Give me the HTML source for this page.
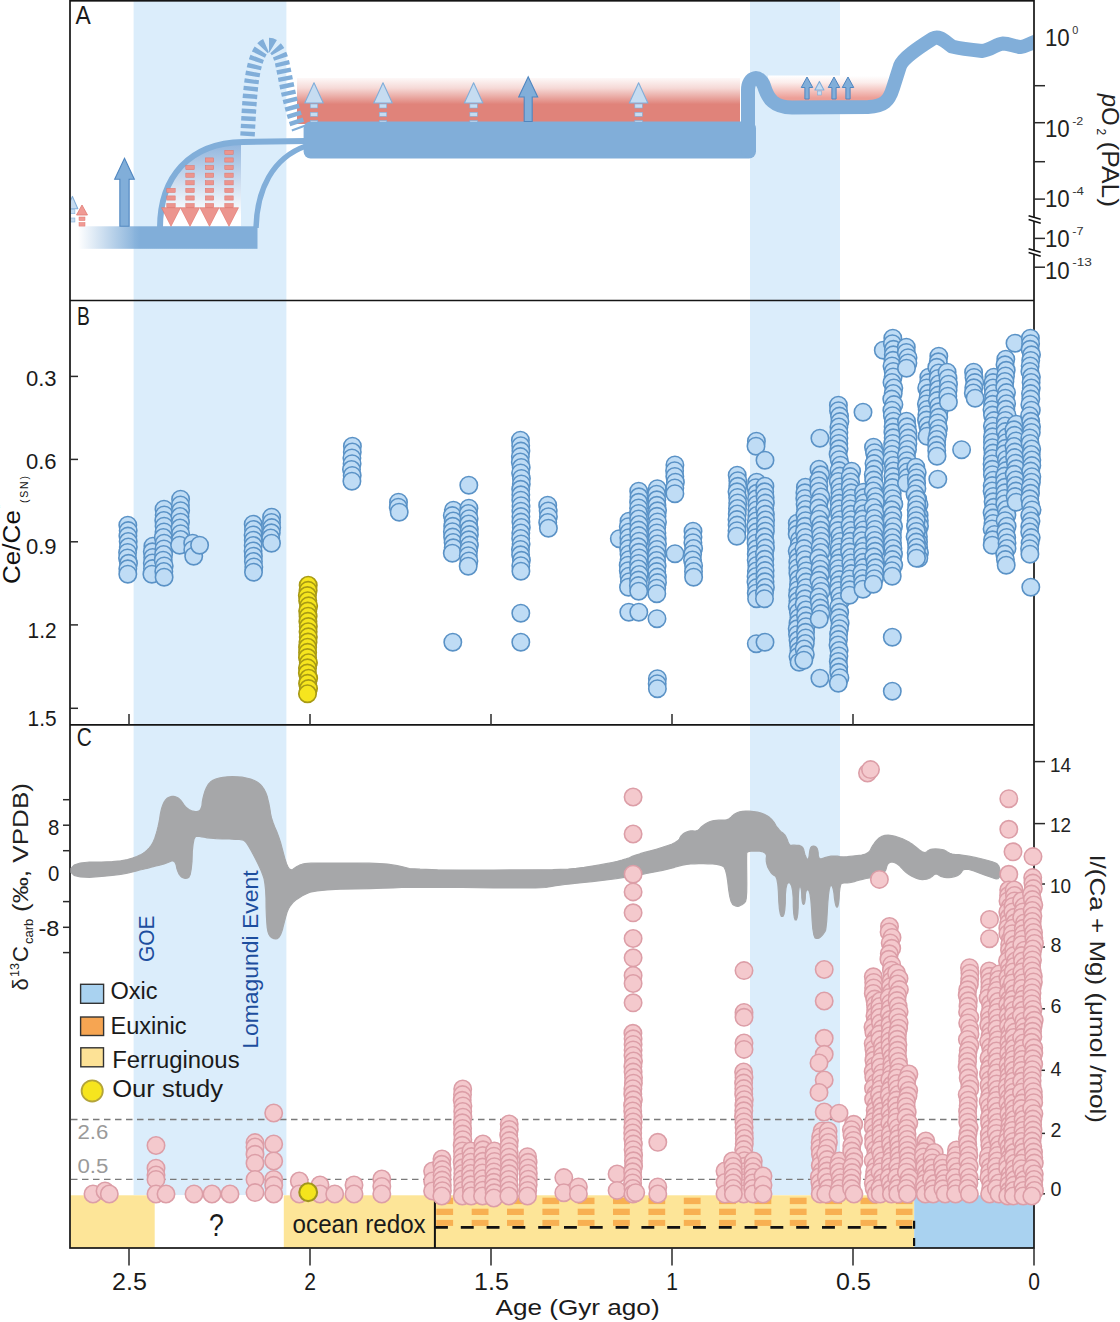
<!DOCTYPE html><html><head><meta charset="utf-8"><style>html,body{margin:0;padding:0;background:#fff;width:1120px;height:1322px;overflow:hidden}</style></head><body><svg width="1120" height="1322" viewBox="0 0 1120 1322" font-family='"Liberation Sans", sans-serif' style="display:block">
<defs>
<linearGradient id="gRed" x1="0" y1="77" x2="0" y2="121" gradientUnits="userSpaceOnUse"><stop offset="0" stop-color="#e0837a" stop-opacity="0.03"/><stop offset="0.25" stop-color="#e0837a" stop-opacity="0.3"/><stop offset="0.62" stop-color="#e0837a" stop-opacity="1"/><stop offset="1" stop-color="#e0837a" stop-opacity="1"/></linearGradient>
<linearGradient id="gRed2" x1="0" y1="76" x2="0" y2="98" gradientUnits="userSpaceOnUse"><stop offset="0" stop-color="#e8877d" stop-opacity="0"/><stop offset="0.3" stop-color="#e8877d" stop-opacity="0.15"/><stop offset="1" stop-color="#e8877d" stop-opacity="0.8"/></linearGradient>
<linearGradient id="gBar" x1="78" y1="0" x2="140" y2="0" gradientUnits="userSpaceOnUse"><stop offset="0" stop-color="#81aed9" stop-opacity="0"/><stop offset="1" stop-color="#81aed9" stop-opacity="1"/></linearGradient>
<linearGradient id="gDome" x1="0" y1="142" x2="0" y2="215" gradientUnits="userSpaceOnUse"><stop offset="0" stop-color="#8fb4dd"/><stop offset="1" stop-color="#ffffff"/></linearGradient>
<clipPath id="clipA"><rect x="70.7" y="1.5" width="963" height="298"/></clipPath>
</defs>
<rect width="1120" height="1322" fill="#ffffff"/>
<rect x="133.6" y="1" width="152.8" height="1194" fill="#dbedfb"/>
<rect x="750" y="1" width="90" height="1194" fill="#dbedfb"/>
<g clip-path="url(#clipA)">
<rect x="297" y="78" width="443" height="46" fill="url(#gRed)"/>
<rect x="768" y="75.5" width="120" height="30.5" fill="#ffffff"/>
<rect x="768" y="75.5" width="120" height="30.5" fill="url(#gRed2)"/>
<rect x="78" y="226.3" width="179.5" height="22.5" fill="url(#gBar)"/>
<path d="M162,226 C162,178 190,145 241,143.5 L241,226 Z" fill="url(#gDome)"/>
<path d="M160,228 C160,177 189,143 243,142 L306,141" fill="none" stroke="#81aed9" stroke-width="6"/>
<path d="M256,228 C257,190 272,158 306,146" fill="none" stroke="#81aed9" stroke-width="5.5"/>
<path d="M247.5,136 C249,110 250,82 255,64 C259,50 264,45 269,45 C274,45 279,50 282,62 C286,80 289,102 299,129" fill="none" stroke="#81aed9" stroke-width="14.5" stroke-dasharray="4.4 3.1"/>
<rect x="303.6" y="121.5" width="452.4" height="37.1" rx="7" fill="#81aed9"/>
<path d="M748,150 L748,90 C748,76 760,74 764,86 C768,99 774,107.5 792,107.5 L868,107 C884,106.5 889,101 893,88 L900,66 C903,58 918,48 933,38.5 C940,35 945,42 952,46.5 C962,49 972,50 982,51 C991,50 996,44 1003,43.5 C1010,43.5 1015,47 1021,47 C1026,46 1030,43.5 1036,41.5" fill="none" stroke="#81aed9" stroke-width="14" stroke-linejoin="round" stroke-linecap="round"/>
<path d="M314,82.7 L323.25,103 L304.75,103 Z" fill="#c6dcf1" stroke="#81aed9" stroke-width="1.1" stroke-linejoin="round"/>
<rect x="310.25" y="104.0" width="7.5" height="4.0" fill="#c6dcf1" stroke="#81aed9" stroke-width="0.6"/>
<rect x="310.25" y="112.3" width="7.5" height="4.0" fill="#c6dcf1" stroke="#81aed9" stroke-width="0.6"/>
<rect x="310.25" y="120.6" width="7.5" height="1.4" fill="#c6dcf1" stroke="#81aed9" stroke-width="0.6"/>
<path d="M383,82.7 L392.25,103 L373.75,103 Z" fill="#c6dcf1" stroke="#81aed9" stroke-width="1.1" stroke-linejoin="round"/>
<rect x="379.25" y="104.0" width="7.5" height="4.0" fill="#c6dcf1" stroke="#81aed9" stroke-width="0.6"/>
<rect x="379.25" y="112.3" width="7.5" height="4.0" fill="#c6dcf1" stroke="#81aed9" stroke-width="0.6"/>
<rect x="379.25" y="120.6" width="7.5" height="1.4" fill="#c6dcf1" stroke="#81aed9" stroke-width="0.6"/>
<path d="M473.6,82.7 L482.85,103 L464.35,103 Z" fill="#c6dcf1" stroke="#81aed9" stroke-width="1.1" stroke-linejoin="round"/>
<rect x="469.85" y="104.0" width="7.5" height="4.0" fill="#c6dcf1" stroke="#81aed9" stroke-width="0.6"/>
<rect x="469.85" y="112.3" width="7.5" height="4.0" fill="#c6dcf1" stroke="#81aed9" stroke-width="0.6"/>
<rect x="469.85" y="120.6" width="7.5" height="1.4" fill="#c6dcf1" stroke="#81aed9" stroke-width="0.6"/>
<path d="M638.6,82.7 L647.85,103 L629.35,103 Z" fill="#c6dcf1" stroke="#81aed9" stroke-width="1.1" stroke-linejoin="round"/>
<rect x="634.85" y="104.0" width="7.5" height="4.0" fill="#c6dcf1" stroke="#81aed9" stroke-width="0.6"/>
<rect x="634.85" y="112.3" width="7.5" height="4.0" fill="#c6dcf1" stroke="#81aed9" stroke-width="0.6"/>
<rect x="634.85" y="120.6" width="7.5" height="1.4" fill="#c6dcf1" stroke="#81aed9" stroke-width="0.6"/>
<path d="M528.2,76.7 L537.7,97 L532.2,97 L532.2,121.5 L524.2,121.5 L524.2,97 L518.7,97 Z" fill="#81aed9" stroke="#4f86c0" stroke-width="1.1" stroke-linejoin="miter"/>
<path d="M807,77 L812.75,87.5 L809.1,87.5 L809.1,99 L804.9,99 L804.9,87.5 L801.25,87.5 Z" fill="#81aed9" stroke="#4f86c0" stroke-width="1.0" stroke-linejoin="miter"/>
<path d="M834,77 L839.75,87.5 L836.1,87.5 L836.1,99 L831.9,99 L831.9,87.5 L828.25,87.5 Z" fill="#81aed9" stroke="#4f86c0" stroke-width="1.0" stroke-linejoin="miter"/>
<path d="M848,77 L853.75,87.5 L850.1,87.5 L850.1,99 L845.9,99 L845.9,87.5 L842.25,87.5 Z" fill="#81aed9" stroke="#4f86c0" stroke-width="1.0" stroke-linejoin="miter"/>
<path d="M819.4,81.4 L823.9,90 L814.9,90 Z" fill="#c6dcf1" stroke="#81aed9" stroke-width="1.1" stroke-linejoin="round"/>
<rect x="817.4" y="91.0" width="4" height="4.0" fill="#c6dcf1" stroke="#81aed9" stroke-width="0.6"/>
<path d="M124.5,158.3 L134.35,179.2 L129.15,179.2 L129.15,226.3 L119.85,226.3 L119.85,179.2 L114.65,179.2 Z" fill="#81aed9" stroke="#4f86c0" stroke-width="1.1" stroke-linejoin="miter"/>
<path d="M72.4,196.4 L77.80000000000001,208.7 L67.0,208.7 Z" fill="#c6dcf1" stroke="#81aed9" stroke-width="1.1" stroke-linejoin="round"/>
<rect x="69.9" y="209.7" width="5" height="4.0" fill="#c6dcf1" stroke="#81aed9" stroke-width="0.6"/>
<rect x="69.9" y="218.0" width="5" height="4.0" fill="#c6dcf1" stroke="#81aed9" stroke-width="0.6"/>
<path d="M82,205 L87.5,215 L76.5,215 Z" fill="#f09a94" stroke="#e07a72" stroke-width="0.8"/>
<rect x="79" y="217" width="6" height="3.6" fill="#f09a94" stroke="#e07a72" stroke-width="0.5"/>
<rect x="79" y="222.5" width="6" height="3.6" fill="#f09a94" stroke="#e07a72" stroke-width="0.5"/>
<rect x="166.8" y="203.5" width="8.4" height="4.2" fill="#ec958e" stroke="#e0726a" stroke-width="0.5"/>
<rect x="166.8" y="195.9" width="8.4" height="4.2" fill="#ec958e" stroke="#e0726a" stroke-width="0.5"/>
<rect x="166.8" y="188.3" width="8.4" height="4.2" fill="#ec958e" stroke="#e0726a" stroke-width="0.5"/>
<path d="M161.5,207.7 L180.5,207.7 L171,226.3 Z" fill="#ec958e" stroke="#e0726a" stroke-width="0.6"/>
<rect x="185.8" y="203.5" width="8.4" height="4.2" fill="#ec958e" stroke="#e0726a" stroke-width="0.5"/>
<rect x="185.8" y="195.9" width="8.4" height="4.2" fill="#ec958e" stroke="#e0726a" stroke-width="0.5"/>
<rect x="185.8" y="188.3" width="8.4" height="4.2" fill="#ec958e" stroke="#e0726a" stroke-width="0.5"/>
<rect x="185.8" y="180.7" width="8.4" height="4.2" fill="#ec958e" stroke="#e0726a" stroke-width="0.5"/>
<rect x="185.8" y="173.1" width="8.4" height="4.2" fill="#ec958e" stroke="#e0726a" stroke-width="0.5"/>
<rect x="185.8" y="165.5" width="8.4" height="4.2" fill="#ec958e" stroke="#e0726a" stroke-width="0.5"/>
<path d="M180.5,207.7 L199.5,207.7 L190,226.3 Z" fill="#ec958e" stroke="#e0726a" stroke-width="0.6"/>
<rect x="205.3" y="203.5" width="8.4" height="4.2" fill="#ec958e" stroke="#e0726a" stroke-width="0.5"/>
<rect x="205.3" y="195.9" width="8.4" height="4.2" fill="#ec958e" stroke="#e0726a" stroke-width="0.5"/>
<rect x="205.3" y="188.3" width="8.4" height="4.2" fill="#ec958e" stroke="#e0726a" stroke-width="0.5"/>
<rect x="205.3" y="180.7" width="8.4" height="4.2" fill="#ec958e" stroke="#e0726a" stroke-width="0.5"/>
<rect x="205.3" y="173.1" width="8.4" height="4.2" fill="#ec958e" stroke="#e0726a" stroke-width="0.5"/>
<rect x="205.3" y="165.5" width="8.4" height="4.2" fill="#ec958e" stroke="#e0726a" stroke-width="0.5"/>
<rect x="205.3" y="157.9" width="8.4" height="4.2" fill="#ec958e" stroke="#e0726a" stroke-width="0.5"/>
<path d="M200.0,207.7 L219.0,207.7 L209.5,226.3 Z" fill="#ec958e" stroke="#e0726a" stroke-width="0.6"/>
<rect x="224.8" y="203.5" width="8.4" height="4.2" fill="#ec958e" stroke="#e0726a" stroke-width="0.5"/>
<rect x="224.8" y="195.9" width="8.4" height="4.2" fill="#ec958e" stroke="#e0726a" stroke-width="0.5"/>
<rect x="224.8" y="188.3" width="8.4" height="4.2" fill="#ec958e" stroke="#e0726a" stroke-width="0.5"/>
<rect x="224.8" y="180.7" width="8.4" height="4.2" fill="#ec958e" stroke="#e0726a" stroke-width="0.5"/>
<rect x="224.8" y="173.1" width="8.4" height="4.2" fill="#ec958e" stroke="#e0726a" stroke-width="0.5"/>
<rect x="224.8" y="165.5" width="8.4" height="4.2" fill="#ec958e" stroke="#e0726a" stroke-width="0.5"/>
<rect x="224.8" y="157.9" width="8.4" height="4.2" fill="#ec958e" stroke="#e0726a" stroke-width="0.5"/>
<rect x="224.8" y="150.3" width="8.4" height="4.2" fill="#ec958e" stroke="#e0726a" stroke-width="0.5"/>
<path d="M219.5,207.7 L238.5,207.7 L229,226.3 Z" fill="#ec958e" stroke="#e0726a" stroke-width="0.6"/>
</g>
<rect x="70" y="1195.3" width="84.69999999999999" height="52.700000000000045" fill="#fde598"/>
<rect x="283.8" y="1195.3" width="630.4000000000001" height="52.700000000000045" fill="#fde598"/>
<rect x="914.2" y="1195.3" width="119.79999999999995" height="52.700000000000045" fill="#a9d2f0"/>
<g fill="#f8b052">
<rect x="436.3" y="1197.7" width="16.8" height="6.4"/>
<rect x="436.3" y="1208.7" width="16.8" height="6.3"/>
<rect x="436.3" y="1219.9" width="16.8" height="6.0"/>
<rect x="471.7" y="1197.7" width="16.8" height="6.4"/>
<rect x="471.7" y="1208.7" width="16.8" height="6.3"/>
<rect x="471.7" y="1219.9" width="16.8" height="6.0"/>
<rect x="507.0" y="1197.7" width="16.8" height="6.4"/>
<rect x="507.0" y="1208.7" width="16.8" height="6.3"/>
<rect x="507.0" y="1219.9" width="16.8" height="6.0"/>
<rect x="542.4" y="1197.7" width="16.8" height="6.4"/>
<rect x="542.4" y="1208.7" width="16.8" height="6.3"/>
<rect x="542.4" y="1219.9" width="16.8" height="6.0"/>
<rect x="577.7" y="1197.7" width="16.8" height="6.4"/>
<rect x="577.7" y="1208.7" width="16.8" height="6.3"/>
<rect x="577.7" y="1219.9" width="16.8" height="6.0"/>
<rect x="613.0" y="1197.7" width="16.8" height="6.4"/>
<rect x="613.0" y="1208.7" width="16.8" height="6.3"/>
<rect x="613.0" y="1219.9" width="16.8" height="6.0"/>
<rect x="648.4" y="1197.7" width="16.8" height="6.4"/>
<rect x="648.4" y="1208.7" width="16.8" height="6.3"/>
<rect x="648.4" y="1219.9" width="16.8" height="6.0"/>
<rect x="683.8" y="1197.7" width="16.8" height="6.4"/>
<rect x="683.8" y="1208.7" width="16.8" height="6.3"/>
<rect x="683.8" y="1219.9" width="16.8" height="6.0"/>
<rect x="719.1" y="1197.7" width="16.8" height="6.4"/>
<rect x="719.1" y="1208.7" width="16.8" height="6.3"/>
<rect x="719.1" y="1219.9" width="16.8" height="6.0"/>
<rect x="754.5" y="1197.7" width="16.8" height="6.4"/>
<rect x="754.5" y="1208.7" width="16.8" height="6.3"/>
<rect x="754.5" y="1219.9" width="16.8" height="6.0"/>
<rect x="789.8" y="1197.7" width="16.8" height="6.4"/>
<rect x="789.8" y="1208.7" width="16.8" height="6.3"/>
<rect x="789.8" y="1219.9" width="16.8" height="6.0"/>
<rect x="825.2" y="1197.7" width="16.8" height="6.4"/>
<rect x="825.2" y="1208.7" width="16.8" height="6.3"/>
<rect x="825.2" y="1219.9" width="16.8" height="6.0"/>
<rect x="860.5" y="1197.7" width="16.8" height="6.4"/>
<rect x="860.5" y="1208.7" width="16.8" height="6.3"/>
<rect x="860.5" y="1219.9" width="16.8" height="6.0"/>
<rect x="895.9" y="1197.7" width="16.6" height="6.4"/>
<rect x="895.9" y="1208.7" width="16.6" height="6.3"/>
<rect x="895.9" y="1219.9" width="16.6" height="6.0"/>
</g>
<line x1="434.9" y1="1194" x2="434.9" y2="1248" stroke="#111" stroke-width="2"/>
<line x1="435" y1="1227.4" x2="914.2" y2="1227.4" stroke="#111" stroke-width="2.6" stroke-dasharray="12.9 12.9"/>
<line x1="914.1" y1="1220.7" x2="914.1" y2="1248" stroke="#111" stroke-width="2.2" stroke-dasharray="8 9.3"/>
<text x="209.00" y="1236.3" font-size="31" fill="#1a1a1a" textLength="14.90" lengthAdjust="spacingAndGlyphs" >?</text>
<text x="292.60" y="1233.3" font-size="25" fill="#1a1a1a" textLength="133.08" lengthAdjust="spacingAndGlyphs" >ocean redox</text>
<g stroke="#151515" stroke-width="1.7" fill="none">
<rect x="70" y="0.8" width="964" height="1247.2"/>
<line x1="70" y1="300.5" x2="1034" y2="300.5"/>
<line x1="70" y1="724.9" x2="1034" y2="724.9"/>
</g>
<g stroke="#2a2a2a" stroke-width="1.5">
<line x1="1034" y1="85.7" x2="1045" y2="85.7"/>
<line x1="1034" y1="122.7" x2="1045" y2="122.7"/>
<line x1="1034" y1="161.7" x2="1045" y2="161.7"/>
<line x1="1034" y1="199.1" x2="1045" y2="199.1"/>
<line x1="1034" y1="238.4" x2="1045" y2="238.4"/>
<line x1="1034" y1="267.2" x2="1045" y2="267.2"/>
<line x1="70" y1="376.4" x2="78" y2="376.4"/>
<line x1="70" y1="459.4" x2="78" y2="459.4"/>
<line x1="70" y1="541.8" x2="78" y2="541.8"/>
<line x1="70" y1="624.9" x2="78" y2="624.9"/>
<line x1="70" y1="708.3" x2="78" y2="708.3"/>
<line x1="129.0" y1="724.9" x2="129.0" y2="713.9"/>
<line x1="310" y1="724.9" x2="310" y2="713.9"/>
<line x1="491.0" y1="724.9" x2="491.0" y2="713.9"/>
<line x1="672" y1="724.9" x2="672" y2="713.9"/>
<line x1="853.0" y1="724.9" x2="853.0" y2="713.9"/>
<line x1="63" y1="799.7" x2="70" y2="799.7"/>
<line x1="63" y1="825.2" x2="70" y2="825.2"/>
<line x1="63" y1="850.7" x2="70" y2="850.7"/>
<line x1="63" y1="901.6" x2="70" y2="901.6"/>
<line x1="63" y1="927.3" x2="70" y2="927.3"/>
<line x1="63" y1="952.6" x2="70" y2="952.6"/>
<line x1="1034" y1="1193.8" x2="1045" y2="1193.8"/>
<line x1="1034" y1="1133.4" x2="1045" y2="1133.4"/>
<line x1="1034" y1="1070.3" x2="1045" y2="1070.3"/>
<line x1="1034" y1="1008.8" x2="1045" y2="1008.8"/>
<line x1="1034" y1="947.0" x2="1045" y2="947.0"/>
<line x1="1034" y1="884.0" x2="1045" y2="884.0"/>
<line x1="1034" y1="823.6" x2="1045" y2="823.6"/>
<line x1="1034" y1="761.6" x2="1045" y2="761.6"/>
<line x1="129.0" y1="1248" x2="129.0" y2="1265.4"/>
<line x1="310" y1="1248" x2="310" y2="1265.4"/>
<line x1="491.0" y1="1248" x2="491.0" y2="1265.4"/>
<line x1="672" y1="1248" x2="672" y2="1265.4"/>
<line x1="853.0" y1="1248" x2="853.0" y2="1265.4"/>
<line x1="1034" y1="1248" x2="1034" y2="1265.4"/>
</g>
<path d="M1031,216.4 L1038,218.5 L1038,222.3 L1031,220.2 Z" fill="#ffffff"/>
<line x1="1028.6" y1="215.7" x2="1040.7" y2="219.3" stroke="#111" stroke-width="1.5"/>
<line x1="1028.6" y1="219.5" x2="1040.7" y2="223.2" stroke="#111" stroke-width="1.5"/>
<path d="M1031,249.4 L1038,251.5 L1038,255.3 L1031,253.2 Z" fill="#ffffff"/>
<line x1="1028.6" y1="248.7" x2="1040.7" y2="252.3" stroke="#111" stroke-width="1.5"/>
<line x1="1028.6" y1="252.5" x2="1040.7" y2="256.2" stroke="#111" stroke-width="1.5"/>
<text x="75.40" y="24.3" font-size="25" fill="#1a1a1a" textLength="15.23" lengthAdjust="spacingAndGlyphs" >A</text>
<text x="77.10" y="324.9" font-size="25" fill="#1a1a1a" textLength="12.84" lengthAdjust="spacingAndGlyphs" >B</text>
<text x="76.70" y="746.3" font-size="25" fill="#1a1a1a" textLength="15.05" lengthAdjust="spacingAndGlyphs" >C</text>
<text x="1045.00" y="45.7" font-size="24.5" fill="#222" textLength="24.75" lengthAdjust="spacingAndGlyphs" >10</text>
<text x="1072.20" y="33.9" font-size="11.5" fill="#333" textLength="6.06" lengthAdjust="spacingAndGlyphs" >0</text>
<text x="1045.00" y="136.5" font-size="24.5" fill="#222" textLength="24.75" lengthAdjust="spacingAndGlyphs" >10</text>
<text x="1072.20" y="124.7" font-size="11.5" fill="#333" textLength="11.19" lengthAdjust="spacingAndGlyphs" >-2</text>
<text x="1045.00" y="207.0" font-size="24.5" fill="#222" textLength="24.75" lengthAdjust="spacingAndGlyphs" >10</text>
<text x="1072.20" y="194.7" font-size="11.5" fill="#333" textLength="11.79" lengthAdjust="spacingAndGlyphs" >-4</text>
<text x="1045.00" y="246.7" font-size="24.5" fill="#222" textLength="24.75" lengthAdjust="spacingAndGlyphs" >10</text>
<text x="1072.20" y="234.5" font-size="11.5" fill="#333" textLength="11.29" lengthAdjust="spacingAndGlyphs" >-7</text>
<text x="1045.00" y="278.5" font-size="24.5" fill="#222" textLength="24.75" lengthAdjust="spacingAndGlyphs" >10</text>
<text x="1072.20" y="265.8" font-size="11.5" fill="#333" textLength="19.73" lengthAdjust="spacingAndGlyphs" >-13</text>
<g transform="translate(1102,0) rotate(90)">
<text y="0" font-size="24" fill="#222"><tspan x="93.8" font-style="italic">p</tspan><tspan x="107">O</tspan><tspan x="128.5" y="5.5" font-size="12">2</tspan><tspan x="141.5" y="0" textLength="65.5" lengthAdjust="spacingAndGlyphs">(PAL)</tspan></text>
</g>
<text x="26.00" y="386.3" font-size="21.5" fill="#1a1a1a" textLength="30.60" lengthAdjust="spacingAndGlyphs" >0.3</text>
<text x="26.00" y="468.5" font-size="21.5" fill="#1a1a1a" textLength="30.60" lengthAdjust="spacingAndGlyphs" >0.6</text>
<text x="26.00" y="554.2" font-size="21.5" fill="#1a1a1a" textLength="30.60" lengthAdjust="spacingAndGlyphs" >0.9</text>
<text x="27.60" y="638.0" font-size="21.5" fill="#1a1a1a" textLength="29.00" lengthAdjust="spacingAndGlyphs" >1.2</text>
<text x="27.60" y="725.7" font-size="21.5" fill="#1a1a1a" textLength="29.00" lengthAdjust="spacingAndGlyphs" >1.5</text>
<g transform="translate(19.7,0) rotate(-90)">
<text y="0" font-size="23.5" fill="#111"><tspan x="-584" textLength="74" lengthAdjust="spacingAndGlyphs">Ce/Ce</tspan><tspan x="-509" y="-15.5" font-size="11">*</tspan><tspan x="-503" y="8" font-size="10.5" letter-spacing="1.8">(SN)</tspan></text>
</g>
<text x="48.00" y="834.5" font-size="21.5" fill="#1a1a1a" textLength="11.32" lengthAdjust="spacingAndGlyphs" >8</text>
<text x="48.00" y="881.0" font-size="21.5" fill="#1a1a1a" textLength="11.32" lengthAdjust="spacingAndGlyphs" >0</text>
<text x="38.50" y="935.5" font-size="21.5" fill="#1a1a1a" textLength="20.88" lengthAdjust="spacingAndGlyphs" >-8</text>
<g transform="translate(28,0) rotate(-90)">
<text y="0" font-size="22" fill="#222"><tspan x="-990.4">δ</tspan><tspan x="-977" y="-9" font-size="12.5">13</tspan><tspan x="-962" y="0">C</tspan><tspan x="-944" y="5" font-size="13">carb</tspan><tspan x="-912" y="0" textLength="129" lengthAdjust="spacingAndGlyphs">(‰, VPDB)</tspan></text>
</g>
<text x="1050.50" y="1195.9" font-size="21" fill="#222" textLength="10.92" lengthAdjust="spacingAndGlyphs" >0</text>
<text x="1050.50" y="1136.6" font-size="21" fill="#222" textLength="10.92" lengthAdjust="spacingAndGlyphs" >2</text>
<text x="1050.50" y="1076.2" font-size="21" fill="#222" textLength="10.92" lengthAdjust="spacingAndGlyphs" >4</text>
<text x="1050.50" y="1012.6" font-size="21" fill="#222" textLength="10.92" lengthAdjust="spacingAndGlyphs" >6</text>
<text x="1050.50" y="952.2" font-size="21" fill="#222" textLength="10.92" lengthAdjust="spacingAndGlyphs" >8</text>
<text x="1050.00" y="892.5" font-size="21" fill="#222" textLength="21.04" lengthAdjust="spacingAndGlyphs" >10</text>
<text x="1050.00" y="831.7" font-size="21" fill="#222" textLength="21.04" lengthAdjust="spacingAndGlyphs" >12</text>
<text x="1050.00" y="771.7" font-size="21" fill="#222" textLength="21.04" lengthAdjust="spacingAndGlyphs" >14</text>
<g transform="translate(1090,0) rotate(90)">
<text x="854.4" y="0" font-size="22" fill="#222" textLength="268.6" lengthAdjust="spacingAndGlyphs">I/(Ca + Mg) (μmol /mol)</text>
</g>
<text x="112.10" y="1290.2" font-size="24" fill="#1a1a1a" textLength="34.80" lengthAdjust="spacingAndGlyphs" >2.5</text>
<text x="304.20" y="1290.4" font-size="24" fill="#1a1a1a" textLength="11.72" lengthAdjust="spacingAndGlyphs" >2</text>
<text x="474.10" y="1290.2" font-size="24" fill="#1a1a1a" textLength="34.80" lengthAdjust="spacingAndGlyphs" >1.5</text>
<text x="666.20" y="1290.4" font-size="24" fill="#1a1a1a" textLength="11.72" lengthAdjust="spacingAndGlyphs" >1</text>
<text x="836.10" y="1290.2" font-size="24" fill="#1a1a1a" textLength="34.80" lengthAdjust="spacingAndGlyphs" >0.5</text>
<text x="1028.20" y="1290.4" font-size="24" fill="#1a1a1a" textLength="11.72" lengthAdjust="spacingAndGlyphs" >0</text>
<text x="495.60" y="1315.3" font-size="22.5" fill="#1a1a1a" textLength="164.00" lengthAdjust="spacingAndGlyphs" >Age (Gyr ago)</text>
<g fill="#bfdcf5" stroke="#5a92c6" stroke-width="1.6">
<circle cx="127.8" cy="525.2" r="8.7"/>
<circle cx="128.2" cy="530.6" r="8.7"/>
<circle cx="127.9" cy="536.1" r="8.7"/>
<circle cx="128.2" cy="541.5" r="8.7"/>
<circle cx="128.3" cy="547.0" r="8.7"/>
<circle cx="127.6" cy="552.4" r="8.7"/>
<circle cx="127.5" cy="557.9" r="8.7"/>
<circle cx="128.5" cy="563.3" r="8.7"/>
<circle cx="127.8" cy="568.8" r="8.7"/>
<circle cx="127.8" cy="574.2" r="8.7"/>
<circle cx="152.9" cy="546.2" r="8.7"/>
<circle cx="152.3" cy="551.8" r="8.7"/>
<circle cx="152.7" cy="557.4" r="8.7"/>
<circle cx="152.3" cy="563.0" r="8.7"/>
<circle cx="152.5" cy="568.6" r="8.7"/>
<circle cx="151.9" cy="574.2" r="8.7"/>
<circle cx="164.0" cy="509.2" r="8.7"/>
<circle cx="164.2" cy="514.9" r="8.7"/>
<circle cx="163.8" cy="520.5" r="8.7"/>
<circle cx="164.1" cy="526.2" r="8.7"/>
<circle cx="164.0" cy="531.9" r="8.7"/>
<circle cx="163.3" cy="537.5" r="8.7"/>
<circle cx="164.1" cy="543.2" r="8.7"/>
<circle cx="163.9" cy="548.9" r="8.7"/>
<circle cx="163.6" cy="554.5" r="8.7"/>
<circle cx="163.2" cy="560.2" r="8.7"/>
<circle cx="164.2" cy="565.9" r="8.7"/>
<circle cx="163.8" cy="571.5" r="8.7"/>
<circle cx="164.1" cy="577.2" r="8.7"/>
<circle cx="180.6" cy="499.2" r="8.7"/>
<circle cx="180.4" cy="504.9" r="8.7"/>
<circle cx="180.6" cy="510.7" r="8.7"/>
<circle cx="180.0" cy="516.5" r="8.7"/>
<circle cx="180.5" cy="522.2" r="8.7"/>
<circle cx="180.0" cy="528.0" r="8.7"/>
<circle cx="180.6" cy="533.7" r="8.7"/>
<circle cx="180.6" cy="539.5" r="8.7"/>
<circle cx="179.6" cy="545.2" r="8.7"/>
<circle cx="192.7" cy="543.2" r="8.7"/>
<circle cx="192.8" cy="549.7" r="8.7"/>
<circle cx="193.7" cy="556.2" r="8.7"/>
<circle cx="199.6" cy="545.2" r="8.7"/>
<circle cx="253.2" cy="524.2" r="8.7"/>
<circle cx="253.5" cy="529.5" r="8.7"/>
<circle cx="253.1" cy="534.9" r="8.7"/>
<circle cx="253.3" cy="540.2" r="8.7"/>
<circle cx="253.2" cy="545.5" r="8.7"/>
<circle cx="253.1" cy="550.9" r="8.7"/>
<circle cx="253.4" cy="556.2" r="8.7"/>
<circle cx="253.4" cy="561.5" r="8.7"/>
<circle cx="253.8" cy="566.9" r="8.7"/>
<circle cx="253.5" cy="572.2" r="8.7"/>
<circle cx="271.6" cy="517.2" r="8.7"/>
<circle cx="271.5" cy="522.4" r="8.7"/>
<circle cx="271.7" cy="527.6" r="8.7"/>
<circle cx="271.3" cy="532.8" r="8.7"/>
<circle cx="270.7" cy="538.0" r="8.7"/>
<circle cx="271.5" cy="543.2" r="8.7"/>
<circle cx="352.4" cy="446.2" r="8.7"/>
<circle cx="352.3" cy="452.0" r="8.7"/>
<circle cx="351.9" cy="457.9" r="8.7"/>
<circle cx="352.1" cy="463.7" r="8.7"/>
<circle cx="351.5" cy="469.5" r="8.7"/>
<circle cx="352.2" cy="475.4" r="8.7"/>
<circle cx="351.9" cy="481.2" r="8.7"/>
<circle cx="398.5" cy="502.2" r="8.7"/>
<circle cx="398.3" cy="507.2" r="8.7"/>
<circle cx="399.2" cy="512.2" r="8.7"/>
<circle cx="453.4" cy="510.2" r="8.7"/>
<circle cx="452.3" cy="515.6" r="8.7"/>
<circle cx="453.2" cy="521.0" r="8.7"/>
<circle cx="452.7" cy="526.3" r="8.7"/>
<circle cx="452.4" cy="531.7" r="8.7"/>
<circle cx="452.6" cy="537.1" r="8.7"/>
<circle cx="453.1" cy="542.5" r="8.7"/>
<circle cx="453.2" cy="547.8" r="8.7"/>
<circle cx="452.3" cy="553.2" r="8.7"/>
<circle cx="452.8" cy="642.2" r="8.7"/>
<circle cx="468.9" cy="508.2" r="8.7"/>
<circle cx="468.3" cy="513.5" r="8.7"/>
<circle cx="469.1" cy="518.7" r="8.7"/>
<circle cx="468.6" cy="524.0" r="8.7"/>
<circle cx="469.3" cy="529.3" r="8.7"/>
<circle cx="469.4" cy="534.6" r="8.7"/>
<circle cx="468.8" cy="539.8" r="8.7"/>
<circle cx="469.4" cy="545.1" r="8.7"/>
<circle cx="468.6" cy="550.4" r="8.7"/>
<circle cx="468.3" cy="555.7" r="8.7"/>
<circle cx="468.9" cy="560.9" r="8.7"/>
<circle cx="468.2" cy="566.2" r="8.7"/>
<circle cx="468.8" cy="485.2" r="8.7"/>
<circle cx="520.4" cy="440.2" r="8.7"/>
<circle cx="520.7" cy="445.7" r="8.7"/>
<circle cx="520.9" cy="451.1" r="8.7"/>
<circle cx="520.4" cy="456.6" r="8.7"/>
<circle cx="520.3" cy="462.0" r="8.7"/>
<circle cx="521.2" cy="467.5" r="8.7"/>
<circle cx="520.6" cy="472.9" r="8.7"/>
<circle cx="521.4" cy="478.4" r="8.7"/>
<circle cx="521.3" cy="483.9" r="8.7"/>
<circle cx="520.7" cy="489.3" r="8.7"/>
<circle cx="520.8" cy="494.8" r="8.7"/>
<circle cx="520.8" cy="500.2" r="8.7"/>
<circle cx="521.0" cy="505.7" r="8.7"/>
<circle cx="520.9" cy="511.2" r="8.7"/>
<circle cx="520.9" cy="516.6" r="8.7"/>
<circle cx="520.9" cy="522.1" r="8.7"/>
<circle cx="521.3" cy="527.5" r="8.7"/>
<circle cx="520.8" cy="533.0" r="8.7"/>
<circle cx="520.7" cy="538.5" r="8.7"/>
<circle cx="521.1" cy="543.9" r="8.7"/>
<circle cx="520.5" cy="549.4" r="8.7"/>
<circle cx="520.6" cy="554.8" r="8.7"/>
<circle cx="521.4" cy="560.3" r="8.7"/>
<circle cx="520.8" cy="565.7" r="8.7"/>
<circle cx="520.9" cy="571.2" r="8.7"/>
<circle cx="520.8" cy="613.2" r="8.7"/>
<circle cx="520.8" cy="642.2" r="8.7"/>
<circle cx="547.7" cy="505.2" r="8.7"/>
<circle cx="548.2" cy="510.9" r="8.7"/>
<circle cx="548.4" cy="516.7" r="8.7"/>
<circle cx="547.7" cy="522.5" r="8.7"/>
<circle cx="548.4" cy="528.2" r="8.7"/>
<circle cx="619.3" cy="538.7" r="8.7"/>
<circle cx="629.0" cy="521.2" r="8.7"/>
<circle cx="628.3" cy="526.7" r="8.7"/>
<circle cx="629.0" cy="532.2" r="8.7"/>
<circle cx="628.8" cy="537.7" r="8.7"/>
<circle cx="629.0" cy="543.2" r="8.7"/>
<circle cx="628.6" cy="548.7" r="8.7"/>
<circle cx="629.0" cy="554.2" r="8.7"/>
<circle cx="629.1" cy="559.7" r="8.7"/>
<circle cx="628.2" cy="565.2" r="8.7"/>
<circle cx="628.3" cy="570.7" r="8.7"/>
<circle cx="629.0" cy="576.2" r="8.7"/>
<circle cx="629.4" cy="581.7" r="8.7"/>
<circle cx="628.5" cy="587.2" r="8.7"/>
<circle cx="628.8" cy="612.2" r="8.7"/>
<circle cx="638.7" cy="491.2" r="8.7"/>
<circle cx="638.9" cy="496.8" r="8.7"/>
<circle cx="638.6" cy="502.3" r="8.7"/>
<circle cx="638.6" cy="507.9" r="8.7"/>
<circle cx="638.6" cy="513.4" r="8.7"/>
<circle cx="638.6" cy="519.0" r="8.7"/>
<circle cx="638.9" cy="524.5" r="8.7"/>
<circle cx="638.6" cy="530.1" r="8.7"/>
<circle cx="638.7" cy="535.6" r="8.7"/>
<circle cx="639.1" cy="541.2" r="8.7"/>
<circle cx="638.2" cy="546.8" r="8.7"/>
<circle cx="638.9" cy="552.3" r="8.7"/>
<circle cx="639.1" cy="557.9" r="8.7"/>
<circle cx="638.6" cy="563.4" r="8.7"/>
<circle cx="638.5" cy="569.0" r="8.7"/>
<circle cx="639.2" cy="574.5" r="8.7"/>
<circle cx="638.5" cy="580.1" r="8.7"/>
<circle cx="638.4" cy="585.6" r="8.7"/>
<circle cx="638.7" cy="591.2" r="8.7"/>
<circle cx="638.8" cy="612.2" r="8.7"/>
<circle cx="657.3" cy="488.7" r="8.7"/>
<circle cx="656.6" cy="494.2" r="8.7"/>
<circle cx="656.8" cy="499.8" r="8.7"/>
<circle cx="656.9" cy="505.3" r="8.7"/>
<circle cx="657.5" cy="510.8" r="8.7"/>
<circle cx="657.0" cy="516.3" r="8.7"/>
<circle cx="657.5" cy="521.9" r="8.7"/>
<circle cx="656.7" cy="527.4" r="8.7"/>
<circle cx="656.9" cy="532.9" r="8.7"/>
<circle cx="657.2" cy="538.4" r="8.7"/>
<circle cx="657.5" cy="544.0" r="8.7"/>
<circle cx="657.0" cy="549.5" r="8.7"/>
<circle cx="656.7" cy="555.0" r="8.7"/>
<circle cx="656.6" cy="560.5" r="8.7"/>
<circle cx="657.1" cy="566.1" r="8.7"/>
<circle cx="656.7" cy="571.6" r="8.7"/>
<circle cx="657.4" cy="577.1" r="8.7"/>
<circle cx="657.5" cy="582.6" r="8.7"/>
<circle cx="656.7" cy="588.2" r="8.7"/>
<circle cx="656.8" cy="593.7" r="8.7"/>
<circle cx="657.0" cy="618.7" r="8.7"/>
<circle cx="657.4" cy="678.7" r="8.7"/>
<circle cx="657.2" cy="683.7" r="8.7"/>
<circle cx="657.4" cy="688.7" r="8.7"/>
<circle cx="674.9" cy="464.9" r="8.7"/>
<circle cx="674.6" cy="470.7" r="8.7"/>
<circle cx="674.8" cy="476.4" r="8.7"/>
<circle cx="675.4" cy="482.2" r="8.7"/>
<circle cx="674.8" cy="487.9" r="8.7"/>
<circle cx="674.9" cy="493.7" r="8.7"/>
<circle cx="675.0" cy="553.7" r="8.7"/>
<circle cx="693.0" cy="531.2" r="8.7"/>
<circle cx="693.0" cy="537.0" r="8.7"/>
<circle cx="692.9" cy="542.7" r="8.7"/>
<circle cx="693.6" cy="548.5" r="8.7"/>
<circle cx="692.6" cy="554.2" r="8.7"/>
<circle cx="692.5" cy="560.0" r="8.7"/>
<circle cx="693.6" cy="565.7" r="8.7"/>
<circle cx="693.5" cy="571.5" r="8.7"/>
<circle cx="693.6" cy="577.2" r="8.7"/>
<circle cx="737.2" cy="475.2" r="8.7"/>
<circle cx="737.8" cy="480.7" r="8.7"/>
<circle cx="737.8" cy="486.3" r="8.7"/>
<circle cx="737.0" cy="491.8" r="8.7"/>
<circle cx="737.6" cy="497.4" r="8.7"/>
<circle cx="737.7" cy="502.9" r="8.7"/>
<circle cx="737.5" cy="508.5" r="8.7"/>
<circle cx="737.3" cy="514.0" r="8.7"/>
<circle cx="737.0" cy="519.6" r="8.7"/>
<circle cx="737.1" cy="525.1" r="8.7"/>
<circle cx="737.0" cy="530.7" r="8.7"/>
<circle cx="736.8" cy="536.2" r="8.7"/>
<circle cx="756.4" cy="441.2" r="8.7"/>
<circle cx="756.0" cy="446.2" r="8.7"/>
<circle cx="756.7" cy="482.2" r="8.7"/>
<circle cx="755.8" cy="487.7" r="8.7"/>
<circle cx="756.8" cy="493.3" r="8.7"/>
<circle cx="756.5" cy="498.8" r="8.7"/>
<circle cx="756.8" cy="504.4" r="8.7"/>
<circle cx="756.8" cy="509.9" r="8.7"/>
<circle cx="756.8" cy="515.5" r="8.7"/>
<circle cx="756.4" cy="521.0" r="8.7"/>
<circle cx="755.7" cy="526.6" r="8.7"/>
<circle cx="756.6" cy="532.1" r="8.7"/>
<circle cx="755.9" cy="537.7" r="8.7"/>
<circle cx="756.1" cy="543.2" r="8.7"/>
<circle cx="756.5" cy="548.8" r="8.7"/>
<circle cx="756.3" cy="554.3" r="8.7"/>
<circle cx="756.2" cy="559.9" r="8.7"/>
<circle cx="756.8" cy="565.4" r="8.7"/>
<circle cx="756.4" cy="571.0" r="8.7"/>
<circle cx="756.1" cy="576.5" r="8.7"/>
<circle cx="756.0" cy="582.1" r="8.7"/>
<circle cx="756.7" cy="587.6" r="8.7"/>
<circle cx="756.3" cy="593.2" r="8.7"/>
<circle cx="756.6" cy="598.7" r="8.7"/>
<circle cx="756.3" cy="643.7" r="8.7"/>
<circle cx="765.0" cy="460.2" r="8.7"/>
<circle cx="764.9" cy="486.2" r="8.7"/>
<circle cx="764.7" cy="491.8" r="8.7"/>
<circle cx="765.1" cy="497.4" r="8.7"/>
<circle cx="765.4" cy="503.1" r="8.7"/>
<circle cx="764.7" cy="508.7" r="8.7"/>
<circle cx="765.4" cy="514.3" r="8.7"/>
<circle cx="765.6" cy="520.0" r="8.7"/>
<circle cx="765.4" cy="525.6" r="8.7"/>
<circle cx="765.4" cy="531.2" r="8.7"/>
<circle cx="764.5" cy="536.8" r="8.7"/>
<circle cx="765.2" cy="542.5" r="8.7"/>
<circle cx="765.5" cy="548.1" r="8.7"/>
<circle cx="764.5" cy="553.7" r="8.7"/>
<circle cx="764.8" cy="559.3" r="8.7"/>
<circle cx="764.8" cy="565.0" r="8.7"/>
<circle cx="765.1" cy="570.6" r="8.7"/>
<circle cx="765.0" cy="576.2" r="8.7"/>
<circle cx="765.0" cy="581.8" r="8.7"/>
<circle cx="765.4" cy="587.5" r="8.7"/>
<circle cx="764.5" cy="593.1" r="8.7"/>
<circle cx="764.5" cy="598.7" r="8.7"/>
<circle cx="765.0" cy="642.2" r="8.7"/>
<circle cx="797.3" cy="523.2" r="8.7"/>
<circle cx="797.3" cy="528.8" r="8.7"/>
<circle cx="797.2" cy="534.3" r="8.7"/>
<circle cx="799.5" cy="539.9" r="8.7"/>
<circle cx="799.2" cy="545.4" r="8.7"/>
<circle cx="797.2" cy="551.0" r="8.7"/>
<circle cx="798.3" cy="556.6" r="8.7"/>
<circle cx="797.8" cy="562.1" r="8.7"/>
<circle cx="797.8" cy="567.7" r="8.7"/>
<circle cx="797.9" cy="573.2" r="8.7"/>
<circle cx="798.7" cy="578.8" r="8.7"/>
<circle cx="798.5" cy="584.4" r="8.7"/>
<circle cx="797.9" cy="589.9" r="8.7"/>
<circle cx="797.5" cy="595.5" r="8.7"/>
<circle cx="797.9" cy="601.0" r="8.7"/>
<circle cx="797.3" cy="606.6" r="8.7"/>
<circle cx="798.4" cy="612.2" r="8.7"/>
<circle cx="798.9" cy="617.7" r="8.7"/>
<circle cx="798.0" cy="623.3" r="8.7"/>
<circle cx="797.2" cy="628.8" r="8.7"/>
<circle cx="797.5" cy="634.4" r="8.7"/>
<circle cx="798.0" cy="640.0" r="8.7"/>
<circle cx="798.6" cy="645.5" r="8.7"/>
<circle cx="799.0" cy="651.1" r="8.7"/>
<circle cx="798.0" cy="656.6" r="8.7"/>
<circle cx="799.1" cy="662.2" r="8.7"/>
<circle cx="805.4" cy="487.2" r="8.7"/>
<circle cx="804.9" cy="492.8" r="8.7"/>
<circle cx="804.8" cy="498.4" r="8.7"/>
<circle cx="805.1" cy="503.9" r="8.7"/>
<circle cx="805.6" cy="509.5" r="8.7"/>
<circle cx="804.9" cy="515.1" r="8.7"/>
<circle cx="805.6" cy="520.7" r="8.7"/>
<circle cx="805.0" cy="526.3" r="8.7"/>
<circle cx="804.4" cy="531.8" r="8.7"/>
<circle cx="805.2" cy="537.4" r="8.7"/>
<circle cx="805.6" cy="543.0" r="8.7"/>
<circle cx="804.0" cy="548.6" r="8.7"/>
<circle cx="804.9" cy="554.2" r="8.7"/>
<circle cx="804.9" cy="559.7" r="8.7"/>
<circle cx="806.1" cy="565.3" r="8.7"/>
<circle cx="806.2" cy="570.9" r="8.7"/>
<circle cx="804.8" cy="576.5" r="8.7"/>
<circle cx="806.1" cy="582.1" r="8.7"/>
<circle cx="805.9" cy="587.7" r="8.7"/>
<circle cx="804.5" cy="593.2" r="8.7"/>
<circle cx="805.0" cy="598.8" r="8.7"/>
<circle cx="804.1" cy="604.4" r="8.7"/>
<circle cx="805.9" cy="610.0" r="8.7"/>
<circle cx="805.5" cy="615.6" r="8.7"/>
<circle cx="806.1" cy="621.1" r="8.7"/>
<circle cx="805.9" cy="626.7" r="8.7"/>
<circle cx="805.5" cy="632.3" r="8.7"/>
<circle cx="805.7" cy="637.9" r="8.7"/>
<circle cx="805.3" cy="643.5" r="8.7"/>
<circle cx="804.1" cy="649.0" r="8.7"/>
<circle cx="805.3" cy="654.6" r="8.7"/>
<circle cx="803.8" cy="660.2" r="8.7"/>
<circle cx="819.9" cy="438.2" r="8.7"/>
<circle cx="819.0" cy="469.2" r="8.7"/>
<circle cx="820.6" cy="474.8" r="8.7"/>
<circle cx="818.7" cy="480.3" r="8.7"/>
<circle cx="818.8" cy="485.9" r="8.7"/>
<circle cx="818.9" cy="491.4" r="8.7"/>
<circle cx="820.9" cy="497.0" r="8.7"/>
<circle cx="819.1" cy="502.5" r="8.7"/>
<circle cx="818.7" cy="508.1" r="8.7"/>
<circle cx="820.8" cy="513.6" r="8.7"/>
<circle cx="818.9" cy="519.2" r="8.7"/>
<circle cx="820.8" cy="524.8" r="8.7"/>
<circle cx="820.4" cy="530.3" r="8.7"/>
<circle cx="820.8" cy="535.9" r="8.7"/>
<circle cx="821.1" cy="541.4" r="8.7"/>
<circle cx="820.1" cy="547.0" r="8.7"/>
<circle cx="820.7" cy="552.5" r="8.7"/>
<circle cx="818.7" cy="558.1" r="8.7"/>
<circle cx="820.6" cy="563.6" r="8.7"/>
<circle cx="819.9" cy="569.2" r="8.7"/>
<circle cx="820.5" cy="574.8" r="8.7"/>
<circle cx="818.9" cy="580.3" r="8.7"/>
<circle cx="820.5" cy="585.9" r="8.7"/>
<circle cx="821.0" cy="591.4" r="8.7"/>
<circle cx="818.8" cy="597.0" r="8.7"/>
<circle cx="819.4" cy="602.5" r="8.7"/>
<circle cx="820.1" cy="608.1" r="8.7"/>
<circle cx="820.8" cy="613.6" r="8.7"/>
<circle cx="819.2" cy="619.2" r="8.7"/>
<circle cx="819.9" cy="678.2" r="8.7"/>
<circle cx="838.4" cy="405.2" r="8.7"/>
<circle cx="838.5" cy="410.7" r="8.7"/>
<circle cx="839.5" cy="416.1" r="8.7"/>
<circle cx="839.9" cy="421.6" r="8.7"/>
<circle cx="838.9" cy="427.0" r="8.7"/>
<circle cx="838.9" cy="432.5" r="8.7"/>
<circle cx="838.9" cy="437.9" r="8.7"/>
<circle cx="838.8" cy="443.4" r="8.7"/>
<circle cx="839.0" cy="448.8" r="8.7"/>
<circle cx="838.1" cy="454.3" r="8.7"/>
<circle cx="839.2" cy="459.7" r="8.7"/>
<circle cx="840.4" cy="465.2" r="8.7"/>
<circle cx="839.0" cy="470.6" r="8.7"/>
<circle cx="839.8" cy="476.1" r="8.7"/>
<circle cx="838.3" cy="481.5" r="8.7"/>
<circle cx="839.7" cy="487.0" r="8.7"/>
<circle cx="839.9" cy="492.4" r="8.7"/>
<circle cx="839.7" cy="497.9" r="8.7"/>
<circle cx="839.2" cy="503.3" r="8.7"/>
<circle cx="839.2" cy="508.8" r="8.7"/>
<circle cx="839.6" cy="514.2" r="8.7"/>
<circle cx="840.2" cy="519.7" r="8.7"/>
<circle cx="838.3" cy="525.1" r="8.7"/>
<circle cx="838.1" cy="530.6" r="8.7"/>
<circle cx="839.8" cy="536.0" r="8.7"/>
<circle cx="840.3" cy="541.5" r="8.7"/>
<circle cx="839.2" cy="546.9" r="8.7"/>
<circle cx="839.1" cy="552.4" r="8.7"/>
<circle cx="839.8" cy="557.8" r="8.7"/>
<circle cx="838.4" cy="563.3" r="8.7"/>
<circle cx="838.6" cy="568.7" r="8.7"/>
<circle cx="838.4" cy="574.2" r="8.7"/>
<circle cx="839.4" cy="579.6" r="8.7"/>
<circle cx="838.7" cy="585.1" r="8.7"/>
<circle cx="838.5" cy="590.5" r="8.7"/>
<circle cx="839.7" cy="596.0" r="8.7"/>
<circle cx="840.4" cy="601.4" r="8.7"/>
<circle cx="838.7" cy="606.9" r="8.7"/>
<circle cx="839.7" cy="612.3" r="8.7"/>
<circle cx="839.0" cy="617.8" r="8.7"/>
<circle cx="840.1" cy="623.2" r="8.7"/>
<circle cx="839.4" cy="628.7" r="8.7"/>
<circle cx="838.6" cy="634.1" r="8.7"/>
<circle cx="838.5" cy="639.6" r="8.7"/>
<circle cx="838.0" cy="645.0" r="8.7"/>
<circle cx="839.1" cy="650.5" r="8.7"/>
<circle cx="838.9" cy="655.9" r="8.7"/>
<circle cx="838.3" cy="661.4" r="8.7"/>
<circle cx="838.8" cy="666.8" r="8.7"/>
<circle cx="838.7" cy="672.3" r="8.7"/>
<circle cx="839.9" cy="677.7" r="8.7"/>
<circle cx="838.3" cy="683.2" r="8.7"/>
<circle cx="851.6" cy="471.2" r="8.7"/>
<circle cx="850.2" cy="476.6" r="8.7"/>
<circle cx="850.6" cy="482.0" r="8.7"/>
<circle cx="850.2" cy="487.4" r="8.7"/>
<circle cx="851.2" cy="492.8" r="8.7"/>
<circle cx="851.1" cy="498.2" r="8.7"/>
<circle cx="850.4" cy="503.5" r="8.7"/>
<circle cx="850.3" cy="508.9" r="8.7"/>
<circle cx="850.9" cy="514.3" r="8.7"/>
<circle cx="851.2" cy="519.7" r="8.7"/>
<circle cx="850.0" cy="525.1" r="8.7"/>
<circle cx="850.9" cy="530.5" r="8.7"/>
<circle cx="851.5" cy="535.9" r="8.7"/>
<circle cx="850.2" cy="541.3" r="8.7"/>
<circle cx="849.6" cy="546.7" r="8.7"/>
<circle cx="849.6" cy="552.1" r="8.7"/>
<circle cx="850.9" cy="557.5" r="8.7"/>
<circle cx="850.8" cy="562.9" r="8.7"/>
<circle cx="851.5" cy="568.2" r="8.7"/>
<circle cx="851.2" cy="573.6" r="8.7"/>
<circle cx="849.6" cy="579.0" r="8.7"/>
<circle cx="849.5" cy="584.4" r="8.7"/>
<circle cx="849.7" cy="589.8" r="8.7"/>
<circle cx="849.5" cy="595.2" r="8.7"/>
<circle cx="863.0" cy="412.2" r="8.7"/>
<circle cx="863.5" cy="492.2" r="8.7"/>
<circle cx="863.9" cy="497.6" r="8.7"/>
<circle cx="864.0" cy="503.0" r="8.7"/>
<circle cx="862.4" cy="508.4" r="8.7"/>
<circle cx="863.9" cy="513.8" r="8.7"/>
<circle cx="862.5" cy="519.1" r="8.7"/>
<circle cx="862.8" cy="524.5" r="8.7"/>
<circle cx="863.6" cy="529.9" r="8.7"/>
<circle cx="861.9" cy="535.3" r="8.7"/>
<circle cx="861.9" cy="540.7" r="8.7"/>
<circle cx="863.9" cy="546.1" r="8.7"/>
<circle cx="862.5" cy="551.5" r="8.7"/>
<circle cx="862.6" cy="556.9" r="8.7"/>
<circle cx="863.2" cy="562.3" r="8.7"/>
<circle cx="863.5" cy="567.6" r="8.7"/>
<circle cx="861.7" cy="573.0" r="8.7"/>
<circle cx="862.6" cy="578.4" r="8.7"/>
<circle cx="862.8" cy="583.8" r="8.7"/>
<circle cx="863.0" cy="589.2" r="8.7"/>
<circle cx="873.5" cy="447.2" r="8.7"/>
<circle cx="874.5" cy="452.7" r="8.7"/>
<circle cx="875.5" cy="458.2" r="8.7"/>
<circle cx="874.0" cy="463.6" r="8.7"/>
<circle cx="874.4" cy="469.1" r="8.7"/>
<circle cx="873.3" cy="474.6" r="8.7"/>
<circle cx="873.7" cy="480.1" r="8.7"/>
<circle cx="874.7" cy="485.6" r="8.7"/>
<circle cx="873.3" cy="491.0" r="8.7"/>
<circle cx="875.3" cy="496.5" r="8.7"/>
<circle cx="875.4" cy="502.0" r="8.7"/>
<circle cx="873.3" cy="507.5" r="8.7"/>
<circle cx="875.4" cy="513.0" r="8.7"/>
<circle cx="874.0" cy="518.4" r="8.7"/>
<circle cx="875.0" cy="523.9" r="8.7"/>
<circle cx="875.0" cy="529.4" r="8.7"/>
<circle cx="873.8" cy="534.9" r="8.7"/>
<circle cx="874.8" cy="540.4" r="8.7"/>
<circle cx="874.7" cy="545.8" r="8.7"/>
<circle cx="875.1" cy="551.3" r="8.7"/>
<circle cx="873.7" cy="556.8" r="8.7"/>
<circle cx="875.0" cy="562.3" r="8.7"/>
<circle cx="875.5" cy="567.8" r="8.7"/>
<circle cx="874.7" cy="573.2" r="8.7"/>
<circle cx="874.4" cy="578.7" r="8.7"/>
<circle cx="873.3" cy="584.2" r="8.7"/>
<circle cx="883.3" cy="350.2" r="8.7"/>
<circle cx="892.8" cy="338.2" r="8.7"/>
<circle cx="892.4" cy="343.7" r="8.7"/>
<circle cx="893.4" cy="349.3" r="8.7"/>
<circle cx="893.3" cy="354.8" r="8.7"/>
<circle cx="893.0" cy="360.3" r="8.7"/>
<circle cx="892.0" cy="365.9" r="8.7"/>
<circle cx="893.2" cy="371.4" r="8.7"/>
<circle cx="893.1" cy="376.9" r="8.7"/>
<circle cx="892.0" cy="382.5" r="8.7"/>
<circle cx="893.8" cy="388.0" r="8.7"/>
<circle cx="893.2" cy="393.5" r="8.7"/>
<circle cx="891.8" cy="399.1" r="8.7"/>
<circle cx="893.9" cy="404.6" r="8.7"/>
<circle cx="891.9" cy="410.2" r="8.7"/>
<circle cx="892.4" cy="415.7" r="8.7"/>
<circle cx="893.4" cy="421.2" r="8.7"/>
<circle cx="893.1" cy="426.8" r="8.7"/>
<circle cx="892.9" cy="432.3" r="8.7"/>
<circle cx="893.2" cy="437.8" r="8.7"/>
<circle cx="892.7" cy="443.4" r="8.7"/>
<circle cx="892.3" cy="448.9" r="8.7"/>
<circle cx="892.0" cy="454.4" r="8.7"/>
<circle cx="891.7" cy="460.0" r="8.7"/>
<circle cx="893.4" cy="465.5" r="8.7"/>
<circle cx="893.5" cy="471.0" r="8.7"/>
<circle cx="892.9" cy="476.6" r="8.7"/>
<circle cx="893.4" cy="482.1" r="8.7"/>
<circle cx="892.4" cy="487.6" r="8.7"/>
<circle cx="892.2" cy="493.2" r="8.7"/>
<circle cx="892.5" cy="498.7" r="8.7"/>
<circle cx="893.8" cy="504.2" r="8.7"/>
<circle cx="891.6" cy="509.8" r="8.7"/>
<circle cx="892.8" cy="515.3" r="8.7"/>
<circle cx="892.1" cy="520.9" r="8.7"/>
<circle cx="893.5" cy="526.4" r="8.7"/>
<circle cx="892.4" cy="531.9" r="8.7"/>
<circle cx="892.4" cy="537.5" r="8.7"/>
<circle cx="892.5" cy="543.0" r="8.7"/>
<circle cx="892.9" cy="548.5" r="8.7"/>
<circle cx="893.5" cy="554.1" r="8.7"/>
<circle cx="892.4" cy="559.6" r="8.7"/>
<circle cx="893.7" cy="565.1" r="8.7"/>
<circle cx="891.8" cy="570.7" r="8.7"/>
<circle cx="892.2" cy="576.2" r="8.7"/>
<circle cx="892.3" cy="637.2" r="8.7"/>
<circle cx="892.3" cy="691.2" r="8.7"/>
<circle cx="906.3" cy="347.2" r="8.7"/>
<circle cx="906.3" cy="352.4" r="8.7"/>
<circle cx="908.0" cy="357.7" r="8.7"/>
<circle cx="907.9" cy="362.9" r="8.7"/>
<circle cx="906.5" cy="368.2" r="8.7"/>
<circle cx="906.5" cy="421.2" r="8.7"/>
<circle cx="907.1" cy="426.8" r="8.7"/>
<circle cx="907.9" cy="432.5" r="8.7"/>
<circle cx="908.1" cy="438.1" r="8.7"/>
<circle cx="907.9" cy="443.7" r="8.7"/>
<circle cx="907.5" cy="449.4" r="8.7"/>
<circle cx="906.4" cy="455.0" r="8.7"/>
<circle cx="907.0" cy="460.7" r="8.7"/>
<circle cx="906.5" cy="466.3" r="8.7"/>
<circle cx="907.4" cy="471.9" r="8.7"/>
<circle cx="907.5" cy="477.6" r="8.7"/>
<circle cx="906.5" cy="483.2" r="8.7"/>
<circle cx="917.7" cy="499.2" r="8.7"/>
<circle cx="919.0" cy="504.6" r="8.7"/>
<circle cx="917.1" cy="509.9" r="8.7"/>
<circle cx="919.1" cy="515.3" r="8.7"/>
<circle cx="919.3" cy="520.7" r="8.7"/>
<circle cx="919.5" cy="526.0" r="8.7"/>
<circle cx="918.0" cy="531.4" r="8.7"/>
<circle cx="918.4" cy="536.7" r="8.7"/>
<circle cx="918.5" cy="542.1" r="8.7"/>
<circle cx="918.6" cy="547.5" r="8.7"/>
<circle cx="919.5" cy="552.8" r="8.7"/>
<circle cx="918.8" cy="558.2" r="8.7"/>
<circle cx="915.8" cy="467.2" r="8.7"/>
<circle cx="917.2" cy="472.6" r="8.7"/>
<circle cx="916.3" cy="477.9" r="8.7"/>
<circle cx="916.6" cy="483.3" r="8.7"/>
<circle cx="916.9" cy="488.6" r="8.7"/>
<circle cx="915.0" cy="494.0" r="8.7"/>
<circle cx="917.0" cy="499.3" r="8.7"/>
<circle cx="916.7" cy="504.7" r="8.7"/>
<circle cx="916.3" cy="510.0" r="8.7"/>
<circle cx="916.4" cy="515.4" r="8.7"/>
<circle cx="916.2" cy="520.7" r="8.7"/>
<circle cx="915.5" cy="526.1" r="8.7"/>
<circle cx="916.4" cy="531.4" r="8.7"/>
<circle cx="915.1" cy="536.8" r="8.7"/>
<circle cx="916.3" cy="542.1" r="8.7"/>
<circle cx="916.7" cy="547.5" r="8.7"/>
<circle cx="916.2" cy="552.8" r="8.7"/>
<circle cx="916.5" cy="558.2" r="8.7"/>
<circle cx="928.8" cy="377.2" r="8.7"/>
<circle cx="928.6" cy="382.6" r="8.7"/>
<circle cx="926.7" cy="387.9" r="8.7"/>
<circle cx="928.4" cy="393.3" r="8.7"/>
<circle cx="927.9" cy="398.7" r="8.7"/>
<circle cx="926.4" cy="404.0" r="8.7"/>
<circle cx="927.2" cy="409.4" r="8.7"/>
<circle cx="926.9" cy="414.7" r="8.7"/>
<circle cx="926.5" cy="420.1" r="8.7"/>
<circle cx="927.7" cy="425.5" r="8.7"/>
<circle cx="928.7" cy="430.8" r="8.7"/>
<circle cx="927.1" cy="436.2" r="8.7"/>
<circle cx="938.8" cy="356.2" r="8.7"/>
<circle cx="938.3" cy="361.8" r="8.7"/>
<circle cx="936.8" cy="367.3" r="8.7"/>
<circle cx="938.7" cy="372.9" r="8.7"/>
<circle cx="938.1" cy="378.4" r="8.7"/>
<circle cx="938.9" cy="384.0" r="8.7"/>
<circle cx="938.4" cy="389.5" r="8.7"/>
<circle cx="938.4" cy="395.1" r="8.7"/>
<circle cx="937.4" cy="400.6" r="8.7"/>
<circle cx="938.6" cy="406.2" r="8.7"/>
<circle cx="938.9" cy="411.8" r="8.7"/>
<circle cx="938.7" cy="417.3" r="8.7"/>
<circle cx="937.6" cy="422.9" r="8.7"/>
<circle cx="938.5" cy="428.4" r="8.7"/>
<circle cx="937.8" cy="434.0" r="8.7"/>
<circle cx="936.8" cy="439.5" r="8.7"/>
<circle cx="936.6" cy="445.1" r="8.7"/>
<circle cx="936.7" cy="450.6" r="8.7"/>
<circle cx="937.0" cy="456.2" r="8.7"/>
<circle cx="937.8" cy="479.2" r="8.7"/>
<circle cx="947.1" cy="372.2" r="8.7"/>
<circle cx="948.0" cy="378.2" r="8.7"/>
<circle cx="948.5" cy="384.2" r="8.7"/>
<circle cx="948.1" cy="390.2" r="8.7"/>
<circle cx="947.8" cy="396.2" r="8.7"/>
<circle cx="948.4" cy="402.2" r="8.7"/>
<circle cx="961.6" cy="449.7" r="8.7"/>
<circle cx="973.6" cy="372.2" r="8.7"/>
<circle cx="974.0" cy="377.4" r="8.7"/>
<circle cx="974.8" cy="382.6" r="8.7"/>
<circle cx="973.8" cy="387.8" r="8.7"/>
<circle cx="973.3" cy="393.0" r="8.7"/>
<circle cx="975.1" cy="398.2" r="8.7"/>
<circle cx="993.9" cy="377.2" r="8.7"/>
<circle cx="993.0" cy="382.6" r="8.7"/>
<circle cx="993.0" cy="388.0" r="8.7"/>
<circle cx="993.4" cy="393.5" r="8.7"/>
<circle cx="993.6" cy="398.9" r="8.7"/>
<circle cx="992.6" cy="404.3" r="8.7"/>
<circle cx="992.0" cy="409.7" r="8.7"/>
<circle cx="992.5" cy="415.1" r="8.7"/>
<circle cx="994.0" cy="420.6" r="8.7"/>
<circle cx="992.4" cy="426.0" r="8.7"/>
<circle cx="993.2" cy="431.4" r="8.7"/>
<circle cx="992.5" cy="436.8" r="8.7"/>
<circle cx="992.5" cy="442.2" r="8.7"/>
<circle cx="992.4" cy="447.7" r="8.7"/>
<circle cx="993.0" cy="453.1" r="8.7"/>
<circle cx="992.4" cy="458.5" r="8.7"/>
<circle cx="992.1" cy="463.9" r="8.7"/>
<circle cx="992.3" cy="469.3" r="8.7"/>
<circle cx="992.4" cy="474.7" r="8.7"/>
<circle cx="993.3" cy="480.2" r="8.7"/>
<circle cx="992.2" cy="485.6" r="8.7"/>
<circle cx="992.1" cy="491.0" r="8.7"/>
<circle cx="993.2" cy="496.4" r="8.7"/>
<circle cx="993.1" cy="501.8" r="8.7"/>
<circle cx="993.8" cy="507.3" r="8.7"/>
<circle cx="992.1" cy="512.7" r="8.7"/>
<circle cx="993.0" cy="518.1" r="8.7"/>
<circle cx="993.0" cy="523.5" r="8.7"/>
<circle cx="992.1" cy="528.9" r="8.7"/>
<circle cx="994.5" cy="534.4" r="8.7"/>
<circle cx="992.6" cy="539.8" r="8.7"/>
<circle cx="992.2" cy="545.2" r="8.7"/>
<circle cx="1005.8" cy="359.2" r="8.7"/>
<circle cx="1005.0" cy="364.8" r="8.7"/>
<circle cx="1006.2" cy="370.3" r="8.7"/>
<circle cx="1005.5" cy="375.9" r="8.7"/>
<circle cx="1004.9" cy="381.5" r="8.7"/>
<circle cx="1004.7" cy="387.0" r="8.7"/>
<circle cx="1006.5" cy="392.6" r="8.7"/>
<circle cx="1005.3" cy="398.2" r="8.7"/>
<circle cx="1006.6" cy="403.7" r="8.7"/>
<circle cx="1005.8" cy="409.3" r="8.7"/>
<circle cx="1007.0" cy="414.9" r="8.7"/>
<circle cx="1005.4" cy="420.4" r="8.7"/>
<circle cx="1005.2" cy="426.0" r="8.7"/>
<circle cx="1005.3" cy="431.6" r="8.7"/>
<circle cx="1006.7" cy="437.1" r="8.7"/>
<circle cx="1006.2" cy="442.7" r="8.7"/>
<circle cx="1005.5" cy="448.3" r="8.7"/>
<circle cx="1004.8" cy="453.8" r="8.7"/>
<circle cx="1006.4" cy="459.4" r="8.7"/>
<circle cx="1007.1" cy="465.0" r="8.7"/>
<circle cx="1006.1" cy="470.6" r="8.7"/>
<circle cx="1004.6" cy="476.1" r="8.7"/>
<circle cx="1004.7" cy="481.7" r="8.7"/>
<circle cx="1004.8" cy="487.3" r="8.7"/>
<circle cx="1005.0" cy="492.8" r="8.7"/>
<circle cx="1004.7" cy="498.4" r="8.7"/>
<circle cx="1004.7" cy="504.0" r="8.7"/>
<circle cx="1006.3" cy="509.5" r="8.7"/>
<circle cx="1006.9" cy="515.1" r="8.7"/>
<circle cx="1005.1" cy="520.7" r="8.7"/>
<circle cx="1007.1" cy="526.2" r="8.7"/>
<circle cx="1005.8" cy="531.8" r="8.7"/>
<circle cx="1006.7" cy="537.4" r="8.7"/>
<circle cx="1007.0" cy="542.9" r="8.7"/>
<circle cx="1007.0" cy="548.5" r="8.7"/>
<circle cx="1004.7" cy="554.1" r="8.7"/>
<circle cx="1005.4" cy="559.6" r="8.7"/>
<circle cx="1006.2" cy="565.2" r="8.7"/>
<circle cx="1015.0" cy="343.2" r="8.7"/>
<circle cx="1016.2" cy="424.2" r="8.7"/>
<circle cx="1013.9" cy="429.8" r="8.7"/>
<circle cx="1014.5" cy="435.3" r="8.7"/>
<circle cx="1015.9" cy="440.9" r="8.7"/>
<circle cx="1014.0" cy="446.5" r="8.7"/>
<circle cx="1014.7" cy="452.1" r="8.7"/>
<circle cx="1014.6" cy="457.6" r="8.7"/>
<circle cx="1015.5" cy="463.2" r="8.7"/>
<circle cx="1016.1" cy="468.8" r="8.7"/>
<circle cx="1014.2" cy="474.3" r="8.7"/>
<circle cx="1015.6" cy="479.9" r="8.7"/>
<circle cx="1015.6" cy="485.5" r="8.7"/>
<circle cx="1015.9" cy="491.1" r="8.7"/>
<circle cx="1015.1" cy="496.6" r="8.7"/>
<circle cx="1016.1" cy="502.2" r="8.7"/>
<circle cx="1030.4" cy="338.2" r="8.7"/>
<circle cx="1030.6" cy="343.7" r="8.7"/>
<circle cx="1030.1" cy="349.3" r="8.7"/>
<circle cx="1031.5" cy="354.8" r="8.7"/>
<circle cx="1030.7" cy="360.4" r="8.7"/>
<circle cx="1030.2" cy="365.9" r="8.7"/>
<circle cx="1029.9" cy="371.4" r="8.7"/>
<circle cx="1031.4" cy="377.0" r="8.7"/>
<circle cx="1031.1" cy="382.5" r="8.7"/>
<circle cx="1031.3" cy="388.0" r="8.7"/>
<circle cx="1030.5" cy="393.6" r="8.7"/>
<circle cx="1030.8" cy="399.1" r="8.7"/>
<circle cx="1029.9" cy="404.7" r="8.7"/>
<circle cx="1031.3" cy="410.2" r="8.7"/>
<circle cx="1029.6" cy="415.7" r="8.7"/>
<circle cx="1030.7" cy="421.3" r="8.7"/>
<circle cx="1031.5" cy="426.8" r="8.7"/>
<circle cx="1031.3" cy="432.4" r="8.7"/>
<circle cx="1029.8" cy="437.9" r="8.7"/>
<circle cx="1030.1" cy="443.4" r="8.7"/>
<circle cx="1031.7" cy="449.0" r="8.7"/>
<circle cx="1031.2" cy="454.5" r="8.7"/>
<circle cx="1031.8" cy="460.0" r="8.7"/>
<circle cx="1031.8" cy="465.6" r="8.7"/>
<circle cx="1030.7" cy="471.1" r="8.7"/>
<circle cx="1031.8" cy="476.7" r="8.7"/>
<circle cx="1031.4" cy="482.2" r="8.7"/>
<circle cx="1030.4" cy="487.7" r="8.7"/>
<circle cx="1030.5" cy="493.3" r="8.7"/>
<circle cx="1029.7" cy="498.8" r="8.7"/>
<circle cx="1030.5" cy="504.4" r="8.7"/>
<circle cx="1032.0" cy="509.9" r="8.7"/>
<circle cx="1029.8" cy="515.4" r="8.7"/>
<circle cx="1031.0" cy="521.0" r="8.7"/>
<circle cx="1029.8" cy="526.5" r="8.7"/>
<circle cx="1029.7" cy="532.0" r="8.7"/>
<circle cx="1031.2" cy="537.6" r="8.7"/>
<circle cx="1030.1" cy="543.1" r="8.7"/>
<circle cx="1029.6" cy="548.7" r="8.7"/>
<circle cx="1029.9" cy="554.2" r="8.7"/>
<circle cx="1030.8" cy="587.2" r="8.7"/>
</g>
<g fill="#f6e51e" stroke="#a89a14" stroke-width="1.7">
<circle cx="308.2" cy="585.2" r="8.7"/>
<circle cx="308.1" cy="590.4" r="8.7"/>
<circle cx="307.4" cy="595.5" r="8.7"/>
<circle cx="307.7" cy="600.7" r="8.7"/>
<circle cx="308.6" cy="605.9" r="8.7"/>
<circle cx="307.7" cy="611.0" r="8.7"/>
<circle cx="308.1" cy="616.2" r="8.7"/>
<circle cx="307.9" cy="621.4" r="8.7"/>
<circle cx="308.3" cy="626.5" r="8.7"/>
<circle cx="308.1" cy="631.7" r="8.7"/>
<circle cx="308.3" cy="636.9" r="8.7"/>
<circle cx="308.0" cy="642.0" r="8.7"/>
<circle cx="307.6" cy="647.2" r="8.7"/>
<circle cx="307.6" cy="652.4" r="8.7"/>
<circle cx="307.5" cy="657.5" r="8.7"/>
<circle cx="308.4" cy="662.7" r="8.7"/>
<circle cx="307.5" cy="667.9" r="8.7"/>
<circle cx="307.4" cy="673.0" r="8.7"/>
<circle cx="308.6" cy="678.2" r="8.7"/>
<circle cx="307.6" cy="683.4" r="8.7"/>
<circle cx="308.5" cy="688.5" r="8.7"/>
<circle cx="307.5" cy="693.7" r="8.7"/>
</g>
<g stroke="#7a7a7a" stroke-width="1.3" stroke-dasharray="6.5 4.5">
<line x1="71" y1="1119.5" x2="1033" y2="1119.5"/>
<line x1="71" y1="1179.3" x2="1033" y2="1179.3"/>
</g>
<text x="77.40" y="1138.6" font-size="20.5" fill="#9a9a9a" textLength="30.90" lengthAdjust="spacingAndGlyphs" >2.6</text>
<text x="77.40" y="1173.0" font-size="20.5" fill="#9a9a9a" textLength="30.90" lengthAdjust="spacingAndGlyphs" >0.5</text>
<path d="M89.4,862.0 L101.6,862.0 L112.1,861.6 L120.7,860.8 L127.5,859.6 L132.5,858.1 L136.8,856.5 L140.4,854.9 L143.2,853.3 L145.4,851.7 L147.3,850.0 L149.1,848.1 L150.7,846.1 L152.2,843.9 L153.5,841.3 L154.8,838.3 L155.9,834.8 L157.0,830.9 L158.0,826.9 L158.9,822.8 L159.7,818.6 L160.3,814.3 L161.1,810.5 L162.0,807.2 L163.0,804.4 L164.1,802.1 L165.3,800.2 L166.8,798.6 L168.4,797.5 L170.2,796.8 L172.0,796.4 L173.8,796.4 L175.6,796.8 L177.3,797.5 L179.0,798.6 L180.6,800.2 L182.1,802.1 L183.6,804.4 L185.2,806.4 L187.0,808.1 L188.9,809.5 L191.1,810.5 L193.1,811.2 L195.1,811.6 L197.0,811.6 L198.7,811.2 L200.2,810.1 L201.2,808.1 L202.0,805.3 L202.3,801.8 L203.0,798.2 L203.9,794.6 L205.0,791.0 L206.5,787.5 L208.2,784.5 L210.4,782.1 L212.9,780.2 L215.7,779.0 L219.1,778.0 L223.0,777.3 L227.5,776.8 L232.5,776.7 L237.3,776.8 L242.0,777.2 L246.4,778.0 L250.7,779.1 L254.4,780.5 L257.6,782.3 L260.3,784.5 L262.5,787.0 L264.3,789.7 L265.8,792.8 L267.1,796.1 L267.9,799.6 L268.8,803.2 L269.5,806.8 L270.1,810.4 L270.6,813.9 L271.5,817.9 L272.9,822.2 L274.6,826.8 L276.8,831.8 L278.8,837.1 L280.6,842.7 L282.2,848.6 L283.8,854.7 L285.2,859.8 L286.5,863.8 L287.8,866.6 L288.9,868.4 L290.1,869.4 L291.4,869.8 L292.7,869.5 L294.0,868.5 L295.4,867.5 L296.9,866.6 L298.5,865.7 L300.2,864.9 L302.4,864.2 L304.9,863.7 L307.8,863.4 L311.0,863.2 L317.5,863.1 L327.2,863.0 L340.0,863.0 L356.0,863.0 L369.2,863.2 L379.8,863.6 L387.5,864.1 L392.5,864.9 L397.2,865.7 L401.6,866.6 L405.6,867.5 L409.4,868.5 L420.1,869.2 L437.7,869.8 L462.2,870.0 L493.8,870.0 L519.3,869.9 L539.0,869.8 L552.7,869.7 L560.4,869.4 L568.3,869.0 L576.2,868.3 L584.2,867.3 L592.2,866.1 L599.6,864.9 L606.2,863.7 L612.1,862.5 L617.4,861.3 L622.0,860.1 L626.0,858.9 L629.4,857.7 L632.2,856.4 L635.8,855.1 L640.2,853.7 L645.4,852.2 L651.5,850.6 L657.1,849.0 L662.3,847.4 L667.1,845.8 L671.6,844.2 L675.1,842.5 L677.7,840.8 L679.4,839.1 L680.2,837.3 L681.3,835.7 L682.7,834.3 L684.4,833.1 L686.5,832.0 L688.5,831.3 L690.5,830.9 L692.5,830.8 L694.5,831.0 L696.3,830.8 L697.9,830.2 L699.3,829.2 L700.5,827.8 L701.9,826.5 L703.5,825.2 L705.3,823.9 L707.4,822.7 L709.5,821.7 L711.7,821.0 L714.0,820.6 L716.4,820.3 L718.7,820.2 L721.0,820.1 L723.2,820.0 L725.4,820.0 L727.3,819.6 L729.1,818.8 L730.7,817.6 L732.2,816.0 L733.8,814.6 L735.6,813.5 L737.5,812.5 L739.7,811.8 L742.4,811.3 L745.6,811.1 L749.3,811.2 L753.6,811.6 L757.5,812.2 L761.1,813.1 L764.3,814.3 L767.1,815.7 L769.7,817.6 L772.0,819.8 L774.1,822.4 L775.9,825.5 L777.7,828.0 L779.5,830.2 L781.3,831.9 L783.0,833.1 L784.6,834.7 L785.9,836.7 L787.0,839.0 L788.0,841.7 L788.8,843.7 L789.8,844.9 L790.6,845.4 L791.5,845.3 L792.9,845.2 L794.5,845.2 L796.6,845.3 L799.1,845.4 L801.2,846.2 L802.7,847.5 L803.7,849.5 L804.2,852.0 L804.8,854.2 L805.5,856.1 L806.3,857.8 L807.3,859.3 L808.0,859.4 L808.6,858.4 L809.1,856.0 L809.5,852.5 L810.0,849.7 L810.7,847.7 L811.6,846.6 L812.7,846.2 L813.7,846.1 L814.7,846.3 L815.6,846.8 L816.5,847.5 L817.3,848.8 L817.8,850.6 L818.2,852.9 L818.3,855.7 L818.9,857.7 L819.9,858.7 L821.3,858.9 L823.0,858.2 L824.9,857.6 L826.9,857.0 L828.9,856.6 L831.1,856.2 L833.2,856.1 L835.4,856.1 L837.5,856.2 L839.7,856.6 L841.7,856.8 L843.7,856.9 L845.6,856.8 L847.3,856.7 L849.8,856.4 L853.0,856.0 L857.0,855.6 L861.6,855.1 L865.4,854.1 L868.2,852.6 L870.2,850.5 L871.3,848.0 L872.7,845.5 L874.5,843.0 L876.6,840.5 L879.1,838.0 L881.9,836.3 L884.9,835.3 L888.2,835.1 L891.8,835.6 L895.3,836.4 L898.9,837.5 L902.5,838.8 L906.0,840.5 L909.5,842.4 L912.9,844.6 L916.2,847.2 L919.5,850.0 L922.2,851.8 L924.6,852.5 L926.4,852.2 L927.9,850.7 L929.8,849.7 L932.3,849.1 L935.4,848.9 L938.9,849.0 L942.0,849.5 L944.5,850.2 L946.4,851.2 L947.9,852.4 L949.8,853.4 L952.3,854.1 L955.4,854.6 L958.9,854.7 L963.4,855.3 L968.8,856.2 L975.0,857.4 L982.2,859.0 L988.0,860.5 L992.4,861.8 L995.6,863.0 L997.3,864.1 L998.7,865.8 L999.6,868.1 L1000.0,871.1 L1000.0,874.6 L999.4,877.1 L998.1,878.6 L996.2,878.9 L993.8,878.2 L990.3,877.0 L985.8,875.4 L980.4,873.4 L973.9,870.9 L968.8,869.5 L965.1,869.2 L962.7,870.1 L961.6,872.0 L960.2,873.7 L958.4,875.1 L956.2,876.1 L953.8,876.8 L951.3,877.3 L949.0,877.6 L946.8,877.6 L944.6,877.4 L942.7,877.0 L940.9,876.4 L939.3,875.5 L937.8,874.5 L936.4,874.0 L935.0,874.2 L933.6,875.0 L932.1,876.5 L930.5,877.6 L928.7,878.5 L926.8,879.1 L924.6,879.5 L922.5,879.6 L920.3,879.4 L918.2,878.9 L916.1,878.2 L914.0,877.3 L911.8,876.2 L909.7,875.0 L907.5,873.5 L905.6,872.0 L903.8,870.4 L902.2,868.7 L900.7,867.0 L899.2,865.4 L897.6,864.2 L895.9,863.2 L894.1,862.5 L892.5,862.1 L891.0,862.1 L889.8,862.5 L888.7,863.2 L887.8,864.2 L887.1,865.4 L886.6,867.0 L886.2,868.7 L885.5,870.4 L884.5,871.9 L883.0,873.3 L881.3,874.5 L879.0,875.6 L876.4,876.5 L873.2,877.2 L869.7,877.8 L866.1,878.5 L862.5,879.3 L858.9,880.2 L855.4,881.3 L852.2,882.1 L849.6,882.6 L847.3,882.9 L845.6,882.9 L844.0,883.0 L842.8,883.2 L841.8,883.4 L841.1,883.8 L840.5,885.5 L839.9,888.5 L839.4,892.8 L839.1,898.6 L838.6,902.8 L838.0,905.7 L837.4,907.1 L836.6,907.1 L835.9,905.7 L835.2,902.8 L834.5,898.6 L833.9,892.8 L833.1,888.7 L832.3,886.2 L831.3,885.3 L830.2,886.1 L829.3,889.2 L828.5,894.7 L827.8,902.7 L827.2,913.0 L826.7,921.1 L826.1,926.8 L825.6,930.2 L825.1,931.3 L824.3,932.5 L823.4,933.8 L822.2,935.3 L820.7,936.9 L819.3,938.0 L817.9,938.5 L816.5,938.5 L815.0,937.9 L813.8,934.7 L812.8,928.7 L812.1,920.0 L811.5,908.5 L810.8,899.8 L809.9,893.7 L808.8,890.4 L807.6,889.6 L806.6,890.1 L805.9,891.7 L805.4,894.5 L805.3,898.4 L804.9,901.4 L804.5,903.3 L803.9,904.3 L803.2,904.3 L802.6,903.2 L802.2,901.1 L801.8,897.8 L801.7,893.6 L801.4,890.2 L800.9,887.9 L800.4,886.6 L799.6,886.2 L799.1,888.1 L798.6,892.2 L798.3,898.6 L798.2,907.1 L797.8,913.6 L797.1,917.9 L796.3,920.0 L795.2,920.0 L794.4,917.8 L793.7,913.3 L793.3,906.6 L793.2,897.7 L792.6,890.8 L791.6,886.0 L790.2,883.2 L788.4,882.5 L787.0,884.1 L786.0,888.1 L785.4,894.5 L785.3,903.3 L784.8,909.8 L784.0,914.2 L782.9,916.4 L781.4,916.4 L780.3,913.9 L779.4,909.0 L778.8,901.7 L778.4,891.8 L777.8,884.3 L776.8,879.0 L775.5,876.1 L773.8,875.3 L772.3,874.1 L770.7,872.3 L769.3,870.0 L767.8,867.2 L766.9,864.3 L766.3,861.5 L766.2,858.6 L766.6,855.7 L765.6,853.5 L763.3,852.0 L759.6,851.1 L754.6,851.0 L750.8,851.1 L748.2,851.7 L746.8,852.6 L746.7,853.8 L746.6,857.5 L746.6,863.7 L746.7,872.3 L746.8,883.4 L746.7,892.0 L746.3,898.0 L745.5,901.6 L744.5,902.7 L743.3,903.7 L742.1,904.6 L740.7,905.3 L739.3,906.1 L737.7,906.3 L736.1,906.1 L734.4,905.5 L732.7,904.5 L731.1,901.5 L729.8,896.7 L728.7,890.0 L727.7,881.5 L726.7,874.8 L725.4,869.9 L724.0,867.0 L722.4,865.9 L720.0,865.1 L716.8,864.4 L712.8,864.0 L707.9,863.8 L703.3,863.7 L698.9,863.7 L694.7,863.8 L690.6,864.0 L686.6,864.4 L682.6,865.1 L678.6,866.1 L674.6,867.3 L670.6,868.4 L666.6,869.4 L662.6,870.3 L658.5,871.1 L654.5,871.9 L650.5,872.7 L646.5,873.5 L642.4,874.3 L637.4,875.2 L631.4,876.2 L624.4,877.3 L616.3,878.6 L608.3,879.7 L600.3,880.7 L592.2,881.6 L584.2,882.4 L576.9,883.2 L570.5,883.9 L564.9,884.5 L560.1,885.1 L555.8,885.7 L551.9,886.3 L548.4,886.9 L545.5,887.5 L535.4,887.9 L518.1,888.0 L493.8,887.9 L462.2,887.5 L436.4,887.4 L416.3,887.4 L401.9,887.5 L393.1,887.9 L382.6,888.2 L370.2,888.6 L356.0,888.9 L340.0,889.2 L327.0,889.9 L317.0,890.9 L310.0,892.2 L306.0,893.9 L302.3,895.8 L298.9,897.9 L295.7,900.1 L292.9,902.6 L290.5,905.5 L288.5,908.7 L287.0,912.3 L285.9,916.2 L284.9,919.9 L284.0,923.3 L283.2,926.4 L282.5,929.3 L281.7,931.8 L280.8,934.1 L279.8,936.0 L278.7,937.6 L277.4,938.6 L275.8,938.9 L273.9,938.7 L271.8,937.7 L270.1,936.2 L268.7,933.9 L267.8,931.0 L267.2,927.5 L266.8,922.4 L266.4,915.8 L266.1,907.7 L266.0,898.0 L265.6,890.0 L264.9,883.6 L264.1,878.8 L263.0,875.5 L261.8,872.2 L260.3,868.8 L258.7,865.3 L257.0,861.8 L255.1,858.1 L253.1,854.3 L251.1,850.5 L248.9,846.6 L247.0,843.6 L245.2,841.4 L243.6,840.2 L242.1,839.8 L239.3,839.5 L235.0,839.3 L229.3,839.0 L222.1,838.9 L216.1,838.6 L211.1,838.2 L207.1,837.8 L204.3,837.2 L201.7,836.8 L199.4,836.5 L197.3,836.4 L195.6,836.4 L194.1,838.9 L193.1,843.9 L192.3,851.4 L192.0,861.4 L191.2,869.1 L190.2,874.4 L188.7,877.5 L187.0,878.2 L185.2,878.4 L183.5,878.0 L181.9,877.2 L180.3,875.7 L178.9,873.8 L177.8,871.3 L176.8,868.2 L176.1,864.7 L175.0,862.2 L173.4,861.0 L171.5,860.9 L169.2,862.0 L166.7,863.0 L164.1,863.9 L161.4,864.6 L158.6,865.4 L155.9,866.0 L153.4,866.6 L151.1,867.2 L148.9,867.8 L147.0,868.3 L145.2,868.7 L143.6,869.1 L142.1,869.5 L139.8,870.0 L136.6,870.9 L132.5,871.9 L127.5,873.1 L120.7,874.3 L112.1,875.4 L101.6,876.4 L89.4,877.3 L80.2,877.0 L74.1,875.3 L71.0,872.4 L71.0,868.3 L74.1,865.1 L80.2,863.0 Z" fill="#a6a7a9" stroke="#a6a7a9" stroke-width="1.2" stroke-linejoin="round"/>
<g transform="translate(154,0) rotate(-90)">
<text x="-962" y="0" font-size="21.5" fill="#1d4e9e" textLength="46.6" lengthAdjust="spacingAndGlyphs">GOE</text>
</g>
<g transform="translate(258.2,0) rotate(-90)">
<text x="-1048.8" y="0" font-size="22.5" fill="#1d4e9e" textLength="178.4" lengthAdjust="spacingAndGlyphs">Lomagundi Event</text>
</g>
<rect x="80.6" y="984.3" width="23" height="19" fill="#a9d2f0" stroke="#333" stroke-width="1.4"/>
<rect x="80.6" y="1017" width="23" height="18.5" fill="#f6a552" stroke="#333" stroke-width="1.4"/>
<rect x="80.8" y="1047.8" width="22.7" height="19" fill="#fde296" stroke="#333" stroke-width="1.4"/>
<circle cx="92.2" cy="1090.9" r="10.6" fill="#f6e51e" stroke="#b3a43a" stroke-width="1.8"/>
<text x="110.40" y="999.0" font-size="23" fill="#1a1a1a" textLength="47.10" lengthAdjust="spacingAndGlyphs" >Oxic</text>
<text x="110.40" y="1033.9" font-size="23" fill="#1a1a1a" textLength="76.08" lengthAdjust="spacingAndGlyphs" >Euxinic</text>
<text x="112.20" y="1067.8" font-size="23" fill="#1a1a1a" textLength="127.39" lengthAdjust="spacingAndGlyphs" >Ferruginous</text>
<text x="112.20" y="1096.9" font-size="23" fill="#1a1a1a" textLength="110.92" lengthAdjust="spacingAndGlyphs" >Our study</text>
<g fill="#f4c9cd" stroke="#dc9ea7" stroke-width="1.6">
<circle cx="93.0" cy="1194.0" r="8.7"/>
<circle cx="105.0" cy="1191.0" r="8.7"/>
<circle cx="109.3" cy="1194.0" r="8.7"/>
<circle cx="156.0" cy="1145.5" r="8.7"/>
<circle cx="156.0" cy="1168.2" r="8.7"/>
<circle cx="156.0" cy="1175.0" r="8.7"/>
<circle cx="156.0" cy="1179.4" r="8.7"/>
<circle cx="156.0" cy="1194.0" r="8.7"/>
<circle cx="166.0" cy="1194.0" r="8.7"/>
<circle cx="194.0" cy="1194.0" r="8.7"/>
<circle cx="212.0" cy="1194.0" r="8.7"/>
<circle cx="230.0" cy="1194.0" r="8.7"/>
<circle cx="255.0" cy="1142.6" r="8.7"/>
<circle cx="255.0" cy="1147.0" r="8.7"/>
<circle cx="255.0" cy="1154.3" r="8.7"/>
<circle cx="255.0" cy="1163.2" r="8.7"/>
<circle cx="255.0" cy="1179.4" r="8.7"/>
<circle cx="255.0" cy="1192.6" r="8.7"/>
<circle cx="273.7" cy="1113.0" r="8.7"/>
<circle cx="273.7" cy="1144.0" r="8.7"/>
<circle cx="273.7" cy="1161.0" r="8.7"/>
<circle cx="273.7" cy="1179.4" r="8.7"/>
<circle cx="273.7" cy="1185.3" r="8.7"/>
<circle cx="273.7" cy="1194.0" r="8.7"/>
<circle cx="299.3" cy="1181.0" r="8.7"/>
<circle cx="299.3" cy="1194.0" r="8.7"/>
<circle cx="320.0" cy="1185.0" r="8.7"/>
<circle cx="320.0" cy="1194.0" r="8.7"/>
<circle cx="334.7" cy="1194.0" r="8.7"/>
<circle cx="354.0" cy="1185.0" r="8.7"/>
<circle cx="354.0" cy="1194.0" r="8.7"/>
<circle cx="381.8" cy="1179.0" r="8.7"/>
<circle cx="381.8" cy="1186.5" r="8.7"/>
<circle cx="381.8" cy="1194.0" r="8.7"/>
<circle cx="432.6" cy="1171.0" r="8.7"/>
<circle cx="432.6" cy="1181.0" r="8.7"/>
<circle cx="432.6" cy="1191.0" r="8.7"/>
<circle cx="442.0" cy="1159.0" r="8.7"/>
<circle cx="441.7" cy="1164.3" r="8.7"/>
<circle cx="442.3" cy="1169.6" r="8.7"/>
<circle cx="442.1" cy="1174.9" r="8.7"/>
<circle cx="442.1" cy="1180.1" r="8.7"/>
<circle cx="442.3" cy="1185.4" r="8.7"/>
<circle cx="442.4" cy="1190.7" r="8.7"/>
<circle cx="441.8" cy="1196.0" r="8.7"/>
<circle cx="462.7" cy="1089.0" r="8.7"/>
<circle cx="462.5" cy="1094.6" r="8.7"/>
<circle cx="462.2" cy="1100.3" r="8.7"/>
<circle cx="462.9" cy="1105.9" r="8.7"/>
<circle cx="462.7" cy="1111.5" r="8.7"/>
<circle cx="462.9" cy="1117.2" r="8.7"/>
<circle cx="462.3" cy="1122.8" r="8.7"/>
<circle cx="462.6" cy="1128.4" r="8.7"/>
<circle cx="462.6" cy="1134.1" r="8.7"/>
<circle cx="462.8" cy="1139.7" r="8.7"/>
<circle cx="462.2" cy="1145.3" r="8.7"/>
<circle cx="462.4" cy="1150.9" r="8.7"/>
<circle cx="462.6" cy="1156.6" r="8.7"/>
<circle cx="462.2" cy="1162.2" r="8.7"/>
<circle cx="462.7" cy="1167.8" r="8.7"/>
<circle cx="462.8" cy="1173.5" r="8.7"/>
<circle cx="462.5" cy="1179.1" r="8.7"/>
<circle cx="462.7" cy="1184.7" r="8.7"/>
<circle cx="462.7" cy="1190.4" r="8.7"/>
<circle cx="462.3" cy="1196.0" r="8.7"/>
<circle cx="470.9" cy="1151.0" r="8.7"/>
<circle cx="471.5" cy="1156.6" r="8.7"/>
<circle cx="470.8" cy="1162.2" r="8.7"/>
<circle cx="470.9" cy="1167.9" r="8.7"/>
<circle cx="470.6" cy="1173.5" r="8.7"/>
<circle cx="470.7" cy="1179.1" r="8.7"/>
<circle cx="470.7" cy="1184.8" r="8.7"/>
<circle cx="471.4" cy="1190.4" r="8.7"/>
<circle cx="471.2" cy="1196.0" r="8.7"/>
<circle cx="482.9" cy="1144.0" r="8.7"/>
<circle cx="483.0" cy="1149.8" r="8.7"/>
<circle cx="482.6" cy="1155.6" r="8.7"/>
<circle cx="482.9" cy="1161.3" r="8.7"/>
<circle cx="482.5" cy="1167.1" r="8.7"/>
<circle cx="482.4" cy="1172.9" r="8.7"/>
<circle cx="482.9" cy="1178.7" r="8.7"/>
<circle cx="482.9" cy="1184.4" r="8.7"/>
<circle cx="482.9" cy="1190.2" r="8.7"/>
<circle cx="482.5" cy="1196.0" r="8.7"/>
<circle cx="494.3" cy="1151.0" r="8.7"/>
<circle cx="493.9" cy="1156.2" r="8.7"/>
<circle cx="494.5" cy="1161.4" r="8.7"/>
<circle cx="494.4" cy="1166.7" r="8.7"/>
<circle cx="493.8" cy="1171.9" r="8.7"/>
<circle cx="494.4" cy="1177.1" r="8.7"/>
<circle cx="493.7" cy="1182.3" r="8.7"/>
<circle cx="493.6" cy="1187.6" r="8.7"/>
<circle cx="494.2" cy="1192.8" r="8.7"/>
<circle cx="493.8" cy="1198.0" r="8.7"/>
<circle cx="509.2" cy="1124.0" r="8.7"/>
<circle cx="509.3" cy="1129.5" r="8.7"/>
<circle cx="508.7" cy="1135.1" r="8.7"/>
<circle cx="509.4" cy="1140.6" r="8.7"/>
<circle cx="509.0" cy="1146.2" r="8.7"/>
<circle cx="509.1" cy="1151.7" r="8.7"/>
<circle cx="509.0" cy="1157.2" r="8.7"/>
<circle cx="509.4" cy="1162.8" r="8.7"/>
<circle cx="509.4" cy="1168.3" r="8.7"/>
<circle cx="509.0" cy="1173.8" r="8.7"/>
<circle cx="508.8" cy="1179.4" r="8.7"/>
<circle cx="509.0" cy="1184.9" r="8.7"/>
<circle cx="509.1" cy="1190.5" r="8.7"/>
<circle cx="508.8" cy="1196.0" r="8.7"/>
<circle cx="527.5" cy="1156.7" r="8.7"/>
<circle cx="528.1" cy="1162.3" r="8.7"/>
<circle cx="528.0" cy="1167.9" r="8.7"/>
<circle cx="528.3" cy="1173.5" r="8.7"/>
<circle cx="528.3" cy="1179.2" r="8.7"/>
<circle cx="528.2" cy="1184.8" r="8.7"/>
<circle cx="527.7" cy="1190.4" r="8.7"/>
<circle cx="527.5" cy="1196.0" r="8.7"/>
<circle cx="563.8" cy="1177.6" r="8.7"/>
<circle cx="563.8" cy="1192.7" r="8.7"/>
<circle cx="578.4" cy="1186.9" r="8.7"/>
<circle cx="578.4" cy="1193.9" r="8.7"/>
<circle cx="617.1" cy="1174.0" r="8.7"/>
<circle cx="617.1" cy="1190.4" r="8.7"/>
<circle cx="633.1" cy="797.0" r="8.7"/>
<circle cx="633.1" cy="834.0" r="8.7"/>
<circle cx="633.1" cy="874.2" r="8.7"/>
<circle cx="633.1" cy="891.9" r="8.7"/>
<circle cx="633.1" cy="912.8" r="8.7"/>
<circle cx="633.1" cy="938.5" r="8.7"/>
<circle cx="633.1" cy="957.8" r="8.7"/>
<circle cx="633.1" cy="975.5" r="8.7"/>
<circle cx="633.1" cy="983.5" r="8.7"/>
<circle cx="633.1" cy="1002.8" r="8.7"/>
<circle cx="632.9" cy="1033.3" r="8.7"/>
<circle cx="633.1" cy="1038.8" r="8.7"/>
<circle cx="633.1" cy="1044.4" r="8.7"/>
<circle cx="633.1" cy="1049.9" r="8.7"/>
<circle cx="633.0" cy="1055.5" r="8.7"/>
<circle cx="633.5" cy="1061.0" r="8.7"/>
<circle cx="632.9" cy="1066.5" r="8.7"/>
<circle cx="633.1" cy="1072.1" r="8.7"/>
<circle cx="633.5" cy="1077.6" r="8.7"/>
<circle cx="633.4" cy="1083.2" r="8.7"/>
<circle cx="632.9" cy="1088.7" r="8.7"/>
<circle cx="632.8" cy="1094.3" r="8.7"/>
<circle cx="633.4" cy="1099.8" r="8.7"/>
<circle cx="632.6" cy="1105.3" r="8.7"/>
<circle cx="632.7" cy="1110.9" r="8.7"/>
<circle cx="633.1" cy="1116.4" r="8.7"/>
<circle cx="633.1" cy="1122.0" r="8.7"/>
<circle cx="632.8" cy="1127.5" r="8.7"/>
<circle cx="632.7" cy="1133.0" r="8.7"/>
<circle cx="632.8" cy="1138.6" r="8.7"/>
<circle cx="633.4" cy="1144.1" r="8.7"/>
<circle cx="633.1" cy="1149.7" r="8.7"/>
<circle cx="633.6" cy="1155.2" r="8.7"/>
<circle cx="633.4" cy="1160.8" r="8.7"/>
<circle cx="633.6" cy="1166.3" r="8.7"/>
<circle cx="632.6" cy="1171.8" r="8.7"/>
<circle cx="632.8" cy="1177.4" r="8.7"/>
<circle cx="632.6" cy="1182.9" r="8.7"/>
<circle cx="633.0" cy="1188.5" r="8.7"/>
<circle cx="632.9" cy="1194.0" r="8.7"/>
<circle cx="635.7" cy="1192.7" r="8.7"/>
<circle cx="657.8" cy="1142.3" r="8.7"/>
<circle cx="657.8" cy="1186.9" r="8.7"/>
<circle cx="657.8" cy="1194.0" r="8.7"/>
<circle cx="744.0" cy="970.6" r="8.7"/>
<circle cx="744.0" cy="1012.4" r="8.7"/>
<circle cx="744.0" cy="1017.3" r="8.7"/>
<circle cx="744.0" cy="1043.0" r="8.7"/>
<circle cx="744.0" cy="1049.4" r="8.7"/>
<circle cx="743.6" cy="1072.0" r="8.7"/>
<circle cx="744.0" cy="1077.5" r="8.7"/>
<circle cx="743.6" cy="1083.1" r="8.7"/>
<circle cx="743.8" cy="1088.6" r="8.7"/>
<circle cx="743.7" cy="1094.2" r="8.7"/>
<circle cx="744.3" cy="1099.7" r="8.7"/>
<circle cx="743.9" cy="1105.3" r="8.7"/>
<circle cx="743.8" cy="1110.8" r="8.7"/>
<circle cx="743.5" cy="1116.4" r="8.7"/>
<circle cx="743.9" cy="1121.9" r="8.7"/>
<circle cx="744.1" cy="1127.5" r="8.7"/>
<circle cx="744.2" cy="1133.0" r="8.7"/>
<circle cx="744.4" cy="1138.5" r="8.7"/>
<circle cx="744.3" cy="1144.1" r="8.7"/>
<circle cx="743.7" cy="1149.6" r="8.7"/>
<circle cx="743.6" cy="1155.2" r="8.7"/>
<circle cx="744.3" cy="1160.7" r="8.7"/>
<circle cx="744.3" cy="1166.3" r="8.7"/>
<circle cx="744.0" cy="1171.8" r="8.7"/>
<circle cx="744.3" cy="1177.4" r="8.7"/>
<circle cx="744.1" cy="1182.9" r="8.7"/>
<circle cx="743.8" cy="1188.5" r="8.7"/>
<circle cx="743.7" cy="1194.0" r="8.7"/>
<circle cx="725.0" cy="1171.0" r="8.7"/>
<circle cx="725.0" cy="1182.5" r="8.7"/>
<circle cx="725.0" cy="1194.0" r="8.7"/>
<circle cx="732.5" cy="1161.0" r="8.7"/>
<circle cx="733.1" cy="1166.5" r="8.7"/>
<circle cx="733.4" cy="1172.0" r="8.7"/>
<circle cx="733.4" cy="1177.5" r="8.7"/>
<circle cx="733.0" cy="1183.0" r="8.7"/>
<circle cx="733.2" cy="1188.5" r="8.7"/>
<circle cx="733.4" cy="1194.0" r="8.7"/>
<circle cx="753.3" cy="1161.0" r="8.7"/>
<circle cx="753.1" cy="1166.5" r="8.7"/>
<circle cx="752.9" cy="1172.0" r="8.7"/>
<circle cx="753.0" cy="1177.5" r="8.7"/>
<circle cx="752.7" cy="1183.0" r="8.7"/>
<circle cx="752.7" cy="1188.5" r="8.7"/>
<circle cx="753.2" cy="1194.0" r="8.7"/>
<circle cx="763.0" cy="1176.0" r="8.7"/>
<circle cx="763.0" cy="1185.0" r="8.7"/>
<circle cx="763.0" cy="1194.0" r="8.7"/>
<circle cx="824.2" cy="969.5" r="8.7"/>
<circle cx="824.2" cy="1001.0" r="8.7"/>
<circle cx="824.2" cy="1038.3" r="8.7"/>
<circle cx="824.2" cy="1054.3" r="8.7"/>
<circle cx="819.0" cy="1062.9" r="8.7"/>
<circle cx="824.2" cy="1080.0" r="8.7"/>
<circle cx="819.0" cy="1092.4" r="8.7"/>
<circle cx="824.2" cy="1112.0" r="8.7"/>
<circle cx="822.1" cy="1131.0" r="8.7"/>
<circle cx="820.7" cy="1136.7" r="8.7"/>
<circle cx="820.2" cy="1142.5" r="8.7"/>
<circle cx="820.0" cy="1148.2" r="8.7"/>
<circle cx="820.4" cy="1153.9" r="8.7"/>
<circle cx="821.5" cy="1159.6" r="8.7"/>
<circle cx="820.3" cy="1165.4" r="8.7"/>
<circle cx="822.0" cy="1171.1" r="8.7"/>
<circle cx="819.4" cy="1176.8" r="8.7"/>
<circle cx="819.9" cy="1182.5" r="8.7"/>
<circle cx="820.6" cy="1188.3" r="8.7"/>
<circle cx="820.2" cy="1194.0" r="8.7"/>
<circle cx="828.1" cy="1131.0" r="8.7"/>
<circle cx="828.0" cy="1136.7" r="8.7"/>
<circle cx="828.4" cy="1142.5" r="8.7"/>
<circle cx="827.4" cy="1148.2" r="8.7"/>
<circle cx="825.5" cy="1153.9" r="8.7"/>
<circle cx="827.2" cy="1159.6" r="8.7"/>
<circle cx="827.2" cy="1165.4" r="8.7"/>
<circle cx="827.0" cy="1171.1" r="8.7"/>
<circle cx="826.3" cy="1176.8" r="8.7"/>
<circle cx="827.7" cy="1182.5" r="8.7"/>
<circle cx="828.3" cy="1188.3" r="8.7"/>
<circle cx="825.7" cy="1194.0" r="8.7"/>
<circle cx="839.0" cy="1113.2" r="8.7"/>
<circle cx="839.5" cy="1161.0" r="8.7"/>
<circle cx="838.6" cy="1166.5" r="8.7"/>
<circle cx="839.0" cy="1172.0" r="8.7"/>
<circle cx="840.3" cy="1177.5" r="8.7"/>
<circle cx="840.5" cy="1183.0" r="8.7"/>
<circle cx="839.5" cy="1188.5" r="8.7"/>
<circle cx="838.0" cy="1194.0" r="8.7"/>
<circle cx="853.7" cy="1124.3" r="8.7"/>
<circle cx="851.4" cy="1129.7" r="8.7"/>
<circle cx="852.0" cy="1135.0" r="8.7"/>
<circle cx="853.5" cy="1140.4" r="8.7"/>
<circle cx="851.8" cy="1145.7" r="8.7"/>
<circle cx="851.7" cy="1151.1" r="8.7"/>
<circle cx="853.8" cy="1156.5" r="8.7"/>
<circle cx="853.8" cy="1161.8" r="8.7"/>
<circle cx="851.8" cy="1167.2" r="8.7"/>
<circle cx="852.1" cy="1172.6" r="8.7"/>
<circle cx="851.7" cy="1177.9" r="8.7"/>
<circle cx="851.2" cy="1183.3" r="8.7"/>
<circle cx="851.6" cy="1188.6" r="8.7"/>
<circle cx="853.9" cy="1194.0" r="8.7"/>
<circle cx="867.5" cy="773.0" r="8.7"/>
<circle cx="870.5" cy="769.6" r="8.7"/>
<circle cx="879.4" cy="879.4" r="8.7"/>
<circle cx="873.3" cy="976.8" r="8.7"/>
<circle cx="873.7" cy="982.4" r="8.7"/>
<circle cx="873.6" cy="987.9" r="8.7"/>
<circle cx="873.3" cy="993.5" r="8.7"/>
<circle cx="874.7" cy="999.1" r="8.7"/>
<circle cx="875.4" cy="1004.6" r="8.7"/>
<circle cx="875.7" cy="1010.2" r="8.7"/>
<circle cx="875.0" cy="1015.8" r="8.7"/>
<circle cx="875.6" cy="1021.4" r="8.7"/>
<circle cx="873.0" cy="1026.9" r="8.7"/>
<circle cx="873.9" cy="1032.5" r="8.7"/>
<circle cx="876.1" cy="1038.1" r="8.7"/>
<circle cx="873.2" cy="1043.6" r="8.7"/>
<circle cx="873.9" cy="1049.2" r="8.7"/>
<circle cx="874.5" cy="1054.8" r="8.7"/>
<circle cx="873.9" cy="1060.3" r="8.7"/>
<circle cx="874.7" cy="1065.9" r="8.7"/>
<circle cx="873.2" cy="1071.5" r="8.7"/>
<circle cx="873.8" cy="1077.0" r="8.7"/>
<circle cx="876.1" cy="1082.6" r="8.7"/>
<circle cx="873.5" cy="1088.2" r="8.7"/>
<circle cx="875.9" cy="1093.8" r="8.7"/>
<circle cx="873.6" cy="1099.3" r="8.7"/>
<circle cx="876.2" cy="1104.9" r="8.7"/>
<circle cx="875.2" cy="1110.5" r="8.7"/>
<circle cx="875.1" cy="1116.0" r="8.7"/>
<circle cx="873.5" cy="1121.6" r="8.7"/>
<circle cx="873.2" cy="1127.2" r="8.7"/>
<circle cx="875.4" cy="1132.7" r="8.7"/>
<circle cx="873.6" cy="1138.3" r="8.7"/>
<circle cx="873.6" cy="1143.9" r="8.7"/>
<circle cx="875.6" cy="1149.4" r="8.7"/>
<circle cx="875.8" cy="1155.0" r="8.7"/>
<circle cx="873.2" cy="1160.6" r="8.7"/>
<circle cx="876.1" cy="1166.2" r="8.7"/>
<circle cx="874.7" cy="1171.7" r="8.7"/>
<circle cx="874.2" cy="1177.3" r="8.7"/>
<circle cx="873.3" cy="1182.9" r="8.7"/>
<circle cx="874.2" cy="1188.4" r="8.7"/>
<circle cx="876.2" cy="1194.0" r="8.7"/>
<circle cx="880.3" cy="1001.0" r="8.7"/>
<circle cx="879.8" cy="1006.5" r="8.7"/>
<circle cx="879.9" cy="1012.0" r="8.7"/>
<circle cx="879.8" cy="1017.5" r="8.7"/>
<circle cx="880.5" cy="1023.1" r="8.7"/>
<circle cx="882.3" cy="1028.6" r="8.7"/>
<circle cx="879.6" cy="1034.1" r="8.7"/>
<circle cx="880.0" cy="1039.6" r="8.7"/>
<circle cx="882.4" cy="1045.1" r="8.7"/>
<circle cx="882.6" cy="1050.6" r="8.7"/>
<circle cx="882.5" cy="1056.1" r="8.7"/>
<circle cx="880.2" cy="1061.7" r="8.7"/>
<circle cx="880.5" cy="1067.2" r="8.7"/>
<circle cx="882.4" cy="1072.7" r="8.7"/>
<circle cx="881.0" cy="1078.2" r="8.7"/>
<circle cx="881.7" cy="1083.7" r="8.7"/>
<circle cx="880.4" cy="1089.2" r="8.7"/>
<circle cx="879.5" cy="1094.7" r="8.7"/>
<circle cx="880.5" cy="1100.3" r="8.7"/>
<circle cx="881.8" cy="1105.8" r="8.7"/>
<circle cx="881.9" cy="1111.3" r="8.7"/>
<circle cx="881.2" cy="1116.8" r="8.7"/>
<circle cx="880.9" cy="1122.3" r="8.7"/>
<circle cx="881.1" cy="1127.8" r="8.7"/>
<circle cx="880.8" cy="1133.3" r="8.7"/>
<circle cx="881.1" cy="1138.9" r="8.7"/>
<circle cx="882.1" cy="1144.4" r="8.7"/>
<circle cx="880.0" cy="1149.9" r="8.7"/>
<circle cx="881.3" cy="1155.4" r="8.7"/>
<circle cx="882.4" cy="1160.9" r="8.7"/>
<circle cx="882.1" cy="1166.4" r="8.7"/>
<circle cx="880.0" cy="1171.9" r="8.7"/>
<circle cx="882.5" cy="1177.5" r="8.7"/>
<circle cx="882.1" cy="1183.0" r="8.7"/>
<circle cx="879.9" cy="1188.5" r="8.7"/>
<circle cx="880.3" cy="1194.0" r="8.7"/>
<circle cx="889.5" cy="926.5" r="8.7"/>
<circle cx="889.1" cy="932.0" r="8.7"/>
<circle cx="892.0" cy="937.4" r="8.7"/>
<circle cx="890.2" cy="942.9" r="8.7"/>
<circle cx="891.7" cy="948.3" r="8.7"/>
<circle cx="889.3" cy="953.8" r="8.7"/>
<circle cx="888.9" cy="959.3" r="8.7"/>
<circle cx="891.7" cy="964.7" r="8.7"/>
<circle cx="891.4" cy="970.2" r="8.7"/>
<circle cx="892.1" cy="975.6" r="8.7"/>
<circle cx="891.1" cy="981.1" r="8.7"/>
<circle cx="890.6" cy="986.6" r="8.7"/>
<circle cx="891.4" cy="992.0" r="8.7"/>
<circle cx="889.2" cy="997.5" r="8.7"/>
<circle cx="890.6" cy="1002.9" r="8.7"/>
<circle cx="890.3" cy="1008.4" r="8.7"/>
<circle cx="889.4" cy="1013.8" r="8.7"/>
<circle cx="890.8" cy="1019.3" r="8.7"/>
<circle cx="889.9" cy="1024.8" r="8.7"/>
<circle cx="890.5" cy="1030.2" r="8.7"/>
<circle cx="890.1" cy="1035.7" r="8.7"/>
<circle cx="889.9" cy="1041.1" r="8.7"/>
<circle cx="890.0" cy="1046.6" r="8.7"/>
<circle cx="890.8" cy="1052.1" r="8.7"/>
<circle cx="892.0" cy="1057.5" r="8.7"/>
<circle cx="891.9" cy="1063.0" r="8.7"/>
<circle cx="891.7" cy="1068.4" r="8.7"/>
<circle cx="891.6" cy="1073.9" r="8.7"/>
<circle cx="889.8" cy="1079.4" r="8.7"/>
<circle cx="892.0" cy="1084.8" r="8.7"/>
<circle cx="889.8" cy="1090.3" r="8.7"/>
<circle cx="889.3" cy="1095.7" r="8.7"/>
<circle cx="890.5" cy="1101.2" r="8.7"/>
<circle cx="891.2" cy="1106.7" r="8.7"/>
<circle cx="890.0" cy="1112.1" r="8.7"/>
<circle cx="891.0" cy="1117.6" r="8.7"/>
<circle cx="889.8" cy="1123.0" r="8.7"/>
<circle cx="892.0" cy="1128.5" r="8.7"/>
<circle cx="890.3" cy="1133.9" r="8.7"/>
<circle cx="890.4" cy="1139.4" r="8.7"/>
<circle cx="890.6" cy="1144.9" r="8.7"/>
<circle cx="891.7" cy="1150.3" r="8.7"/>
<circle cx="892.1" cy="1155.8" r="8.7"/>
<circle cx="890.6" cy="1161.2" r="8.7"/>
<circle cx="890.3" cy="1166.7" r="8.7"/>
<circle cx="890.9" cy="1172.2" r="8.7"/>
<circle cx="889.1" cy="1177.6" r="8.7"/>
<circle cx="890.3" cy="1183.1" r="8.7"/>
<circle cx="891.6" cy="1188.5" r="8.7"/>
<circle cx="891.4" cy="1194.0" r="8.7"/>
<circle cx="896.5" cy="973.0" r="8.7"/>
<circle cx="899.0" cy="978.5" r="8.7"/>
<circle cx="897.5" cy="984.0" r="8.7"/>
<circle cx="899.4" cy="989.6" r="8.7"/>
<circle cx="897.5" cy="995.1" r="8.7"/>
<circle cx="897.0" cy="1000.6" r="8.7"/>
<circle cx="898.1" cy="1006.1" r="8.7"/>
<circle cx="899.1" cy="1011.7" r="8.7"/>
<circle cx="897.7" cy="1017.2" r="8.7"/>
<circle cx="899.1" cy="1022.7" r="8.7"/>
<circle cx="898.6" cy="1028.2" r="8.7"/>
<circle cx="897.5" cy="1033.8" r="8.7"/>
<circle cx="897.3" cy="1039.3" r="8.7"/>
<circle cx="897.9" cy="1044.8" r="8.7"/>
<circle cx="897.6" cy="1050.3" r="8.7"/>
<circle cx="897.5" cy="1055.9" r="8.7"/>
<circle cx="898.4" cy="1061.4" r="8.7"/>
<circle cx="899.1" cy="1066.9" r="8.7"/>
<circle cx="898.2" cy="1072.5" r="8.7"/>
<circle cx="896.8" cy="1078.0" r="8.7"/>
<circle cx="897.0" cy="1083.5" r="8.7"/>
<circle cx="897.5" cy="1089.0" r="8.7"/>
<circle cx="898.3" cy="1094.5" r="8.7"/>
<circle cx="896.7" cy="1100.1" r="8.7"/>
<circle cx="896.6" cy="1105.6" r="8.7"/>
<circle cx="897.3" cy="1111.1" r="8.7"/>
<circle cx="897.2" cy="1116.7" r="8.7"/>
<circle cx="896.4" cy="1122.2" r="8.7"/>
<circle cx="898.0" cy="1127.7" r="8.7"/>
<circle cx="899.2" cy="1133.2" r="8.7"/>
<circle cx="898.0" cy="1138.8" r="8.7"/>
<circle cx="898.7" cy="1144.3" r="8.7"/>
<circle cx="899.0" cy="1149.8" r="8.7"/>
<circle cx="899.0" cy="1155.3" r="8.7"/>
<circle cx="899.2" cy="1160.8" r="8.7"/>
<circle cx="897.7" cy="1166.4" r="8.7"/>
<circle cx="898.5" cy="1171.9" r="8.7"/>
<circle cx="896.7" cy="1177.4" r="8.7"/>
<circle cx="899.1" cy="1183.0" r="8.7"/>
<circle cx="897.5" cy="1188.5" r="8.7"/>
<circle cx="897.8" cy="1194.0" r="8.7"/>
<circle cx="908.9" cy="1074.0" r="8.7"/>
<circle cx="907.0" cy="1079.5" r="8.7"/>
<circle cx="906.7" cy="1084.9" r="8.7"/>
<circle cx="908.7" cy="1090.4" r="8.7"/>
<circle cx="908.0" cy="1095.8" r="8.7"/>
<circle cx="906.4" cy="1101.3" r="8.7"/>
<circle cx="906.2" cy="1106.7" r="8.7"/>
<circle cx="907.2" cy="1112.2" r="8.7"/>
<circle cx="906.1" cy="1117.6" r="8.7"/>
<circle cx="908.8" cy="1123.1" r="8.7"/>
<circle cx="906.7" cy="1128.5" r="8.7"/>
<circle cx="907.0" cy="1134.0" r="8.7"/>
<circle cx="907.3" cy="1139.5" r="8.7"/>
<circle cx="907.7" cy="1144.9" r="8.7"/>
<circle cx="907.5" cy="1150.4" r="8.7"/>
<circle cx="908.1" cy="1155.8" r="8.7"/>
<circle cx="908.2" cy="1161.3" r="8.7"/>
<circle cx="907.5" cy="1166.7" r="8.7"/>
<circle cx="906.4" cy="1172.2" r="8.7"/>
<circle cx="909.2" cy="1177.6" r="8.7"/>
<circle cx="908.3" cy="1183.1" r="8.7"/>
<circle cx="906.4" cy="1188.5" r="8.7"/>
<circle cx="907.5" cy="1194.0" r="8.7"/>
<circle cx="925.8" cy="1141.0" r="8.7"/>
<circle cx="926.6" cy="1146.3" r="8.7"/>
<circle cx="923.6" cy="1151.6" r="8.7"/>
<circle cx="923.4" cy="1156.9" r="8.7"/>
<circle cx="924.9" cy="1162.2" r="8.7"/>
<circle cx="924.8" cy="1167.5" r="8.7"/>
<circle cx="926.3" cy="1172.8" r="8.7"/>
<circle cx="926.0" cy="1178.1" r="8.7"/>
<circle cx="924.5" cy="1183.4" r="8.7"/>
<circle cx="924.7" cy="1188.7" r="8.7"/>
<circle cx="925.3" cy="1194.0" r="8.7"/>
<circle cx="934.2" cy="1152.5" r="8.7"/>
<circle cx="932.0" cy="1157.7" r="8.7"/>
<circle cx="932.7" cy="1162.9" r="8.7"/>
<circle cx="931.7" cy="1168.1" r="8.7"/>
<circle cx="933.5" cy="1173.2" r="8.7"/>
<circle cx="931.5" cy="1178.4" r="8.7"/>
<circle cx="934.4" cy="1183.6" r="8.7"/>
<circle cx="933.1" cy="1188.8" r="8.7"/>
<circle cx="933.2" cy="1194.0" r="8.7"/>
<circle cx="942.3" cy="1163.0" r="8.7"/>
<circle cx="942.7" cy="1168.2" r="8.7"/>
<circle cx="943.5" cy="1173.3" r="8.7"/>
<circle cx="944.7" cy="1178.5" r="8.7"/>
<circle cx="943.7" cy="1183.7" r="8.7"/>
<circle cx="942.9" cy="1188.8" r="8.7"/>
<circle cx="945.1" cy="1194.0" r="8.7"/>
<circle cx="956.5" cy="1150.0" r="8.7"/>
<circle cx="956.1" cy="1155.5" r="8.7"/>
<circle cx="955.0" cy="1161.0" r="8.7"/>
<circle cx="955.4" cy="1166.5" r="8.7"/>
<circle cx="957.3" cy="1172.0" r="8.7"/>
<circle cx="954.8" cy="1177.5" r="8.7"/>
<circle cx="956.1" cy="1183.0" r="8.7"/>
<circle cx="956.4" cy="1188.5" r="8.7"/>
<circle cx="955.5" cy="1194.0" r="8.7"/>
<circle cx="969.5" cy="967.7" r="8.7"/>
<circle cx="969.9" cy="973.2" r="8.7"/>
<circle cx="969.7" cy="978.7" r="8.7"/>
<circle cx="969.4" cy="984.3" r="8.7"/>
<circle cx="967.7" cy="989.8" r="8.7"/>
<circle cx="967.2" cy="995.3" r="8.7"/>
<circle cx="968.4" cy="1000.8" r="8.7"/>
<circle cx="968.0" cy="1006.3" r="8.7"/>
<circle cx="967.6" cy="1011.9" r="8.7"/>
<circle cx="969.8" cy="1017.4" r="8.7"/>
<circle cx="967.7" cy="1022.9" r="8.7"/>
<circle cx="969.6" cy="1028.4" r="8.7"/>
<circle cx="970.0" cy="1033.9" r="8.7"/>
<circle cx="967.4" cy="1039.5" r="8.7"/>
<circle cx="969.9" cy="1045.0" r="8.7"/>
<circle cx="968.3" cy="1050.5" r="8.7"/>
<circle cx="967.7" cy="1056.0" r="8.7"/>
<circle cx="967.6" cy="1061.5" r="8.7"/>
<circle cx="967.1" cy="1067.1" r="8.7"/>
<circle cx="968.6" cy="1072.6" r="8.7"/>
<circle cx="968.2" cy="1078.1" r="8.7"/>
<circle cx="969.7" cy="1083.6" r="8.7"/>
<circle cx="969.7" cy="1089.1" r="8.7"/>
<circle cx="967.2" cy="1094.6" r="8.7"/>
<circle cx="968.3" cy="1100.2" r="8.7"/>
<circle cx="968.2" cy="1105.7" r="8.7"/>
<circle cx="967.6" cy="1111.2" r="8.7"/>
<circle cx="967.8" cy="1116.7" r="8.7"/>
<circle cx="967.8" cy="1122.2" r="8.7"/>
<circle cx="969.2" cy="1127.8" r="8.7"/>
<circle cx="968.1" cy="1133.3" r="8.7"/>
<circle cx="967.4" cy="1138.8" r="8.7"/>
<circle cx="967.7" cy="1144.3" r="8.7"/>
<circle cx="968.4" cy="1149.8" r="8.7"/>
<circle cx="968.8" cy="1155.4" r="8.7"/>
<circle cx="967.8" cy="1160.9" r="8.7"/>
<circle cx="969.2" cy="1166.4" r="8.7"/>
<circle cx="967.7" cy="1171.9" r="8.7"/>
<circle cx="969.1" cy="1177.4" r="8.7"/>
<circle cx="968.9" cy="1183.0" r="8.7"/>
<circle cx="967.6" cy="1188.5" r="8.7"/>
<circle cx="969.4" cy="1194.0" r="8.7"/>
<circle cx="989.5" cy="919.4" r="8.7"/>
<circle cx="989.5" cy="938.7" r="8.7"/>
<circle cx="989.2" cy="970.9" r="8.7"/>
<circle cx="989.6" cy="976.3" r="8.7"/>
<circle cx="989.8" cy="981.8" r="8.7"/>
<circle cx="989.9" cy="987.2" r="8.7"/>
<circle cx="989.3" cy="992.7" r="8.7"/>
<circle cx="988.1" cy="998.1" r="8.7"/>
<circle cx="990.4" cy="1003.5" r="8.7"/>
<circle cx="990.7" cy="1009.0" r="8.7"/>
<circle cx="989.5" cy="1014.4" r="8.7"/>
<circle cx="989.8" cy="1019.9" r="8.7"/>
<circle cx="988.8" cy="1025.3" r="8.7"/>
<circle cx="990.8" cy="1030.8" r="8.7"/>
<circle cx="990.1" cy="1036.2" r="8.7"/>
<circle cx="988.6" cy="1041.6" r="8.7"/>
<circle cx="990.5" cy="1047.1" r="8.7"/>
<circle cx="991.1" cy="1052.5" r="8.7"/>
<circle cx="989.0" cy="1058.0" r="8.7"/>
<circle cx="991.1" cy="1063.4" r="8.7"/>
<circle cx="989.4" cy="1068.8" r="8.7"/>
<circle cx="988.5" cy="1074.3" r="8.7"/>
<circle cx="990.2" cy="1079.7" r="8.7"/>
<circle cx="989.0" cy="1085.2" r="8.7"/>
<circle cx="990.2" cy="1090.6" r="8.7"/>
<circle cx="989.8" cy="1096.1" r="8.7"/>
<circle cx="988.2" cy="1101.5" r="8.7"/>
<circle cx="989.6" cy="1106.9" r="8.7"/>
<circle cx="990.6" cy="1112.4" r="8.7"/>
<circle cx="989.4" cy="1117.8" r="8.7"/>
<circle cx="989.6" cy="1123.3" r="8.7"/>
<circle cx="990.7" cy="1128.7" r="8.7"/>
<circle cx="989.3" cy="1134.1" r="8.7"/>
<circle cx="989.5" cy="1139.6" r="8.7"/>
<circle cx="989.8" cy="1145.0" r="8.7"/>
<circle cx="990.5" cy="1150.5" r="8.7"/>
<circle cx="988.5" cy="1155.9" r="8.7"/>
<circle cx="988.2" cy="1161.4" r="8.7"/>
<circle cx="990.3" cy="1166.8" r="8.7"/>
<circle cx="989.7" cy="1172.2" r="8.7"/>
<circle cx="988.9" cy="1177.7" r="8.7"/>
<circle cx="990.8" cy="1183.1" r="8.7"/>
<circle cx="990.7" cy="1188.6" r="8.7"/>
<circle cx="989.6" cy="1194.0" r="8.7"/>
<circle cx="999.2" cy="974.0" r="8.7"/>
<circle cx="998.7" cy="979.5" r="8.7"/>
<circle cx="998.4" cy="985.0" r="8.7"/>
<circle cx="996.9" cy="990.5" r="8.7"/>
<circle cx="996.0" cy="996.0" r="8.7"/>
<circle cx="998.2" cy="1001.5" r="8.7"/>
<circle cx="998.4" cy="1007.0" r="8.7"/>
<circle cx="997.1" cy="1012.5" r="8.7"/>
<circle cx="997.5" cy="1018.0" r="8.7"/>
<circle cx="997.8" cy="1023.5" r="8.7"/>
<circle cx="996.8" cy="1029.0" r="8.7"/>
<circle cx="998.2" cy="1034.5" r="8.7"/>
<circle cx="997.8" cy="1040.0" r="8.7"/>
<circle cx="997.2" cy="1045.5" r="8.7"/>
<circle cx="996.4" cy="1051.0" r="8.7"/>
<circle cx="997.8" cy="1056.5" r="8.7"/>
<circle cx="997.0" cy="1062.0" r="8.7"/>
<circle cx="998.3" cy="1067.5" r="8.7"/>
<circle cx="996.6" cy="1073.0" r="8.7"/>
<circle cx="997.3" cy="1078.5" r="8.7"/>
<circle cx="996.6" cy="1084.0" r="8.7"/>
<circle cx="997.3" cy="1089.5" r="8.7"/>
<circle cx="997.8" cy="1095.0" r="8.7"/>
<circle cx="996.3" cy="1100.5" r="8.7"/>
<circle cx="996.2" cy="1106.0" r="8.7"/>
<circle cx="997.5" cy="1111.5" r="8.7"/>
<circle cx="996.6" cy="1117.0" r="8.7"/>
<circle cx="997.6" cy="1122.5" r="8.7"/>
<circle cx="996.5" cy="1128.0" r="8.7"/>
<circle cx="996.3" cy="1133.5" r="8.7"/>
<circle cx="997.7" cy="1139.0" r="8.7"/>
<circle cx="999.0" cy="1144.5" r="8.7"/>
<circle cx="998.8" cy="1150.0" r="8.7"/>
<circle cx="997.6" cy="1155.5" r="8.7"/>
<circle cx="997.3" cy="1161.0" r="8.7"/>
<circle cx="996.2" cy="1166.5" r="8.7"/>
<circle cx="996.9" cy="1172.0" r="8.7"/>
<circle cx="997.0" cy="1177.5" r="8.7"/>
<circle cx="999.0" cy="1183.0" r="8.7"/>
<circle cx="996.4" cy="1188.5" r="8.7"/>
<circle cx="999.0" cy="1194.0" r="8.7"/>
<circle cx="1008.8" cy="798.7" r="8.7"/>
<circle cx="1008.8" cy="829.3" r="8.7"/>
<circle cx="1013.0" cy="851.8" r="8.7"/>
<circle cx="1008.8" cy="874.3" r="8.7"/>
<circle cx="1008.7" cy="890.0" r="8.7"/>
<circle cx="1008.6" cy="895.5" r="8.7"/>
<circle cx="1008.0" cy="900.9" r="8.7"/>
<circle cx="1010.3" cy="906.4" r="8.7"/>
<circle cx="1007.8" cy="911.9" r="8.7"/>
<circle cx="1009.0" cy="917.3" r="8.7"/>
<circle cx="1008.8" cy="922.8" r="8.7"/>
<circle cx="1007.8" cy="928.2" r="8.7"/>
<circle cx="1007.9" cy="933.7" r="8.7"/>
<circle cx="1010.4" cy="939.2" r="8.7"/>
<circle cx="1009.7" cy="944.6" r="8.7"/>
<circle cx="1009.5" cy="950.1" r="8.7"/>
<circle cx="1010.1" cy="955.6" r="8.7"/>
<circle cx="1007.5" cy="961.0" r="8.7"/>
<circle cx="1009.5" cy="966.5" r="8.7"/>
<circle cx="1009.6" cy="972.0" r="8.7"/>
<circle cx="1007.9" cy="977.4" r="8.7"/>
<circle cx="1008.7" cy="982.9" r="8.7"/>
<circle cx="1010.3" cy="988.4" r="8.7"/>
<circle cx="1008.2" cy="993.8" r="8.7"/>
<circle cx="1009.6" cy="999.3" r="8.7"/>
<circle cx="1007.7" cy="1004.8" r="8.7"/>
<circle cx="1009.3" cy="1010.2" r="8.7"/>
<circle cx="1008.1" cy="1015.7" r="8.7"/>
<circle cx="1008.8" cy="1021.1" r="8.7"/>
<circle cx="1008.4" cy="1026.6" r="8.7"/>
<circle cx="1010.0" cy="1032.1" r="8.7"/>
<circle cx="1009.6" cy="1037.5" r="8.7"/>
<circle cx="1008.8" cy="1043.0" r="8.7"/>
<circle cx="1009.4" cy="1048.5" r="8.7"/>
<circle cx="1008.6" cy="1053.9" r="8.7"/>
<circle cx="1009.8" cy="1059.4" r="8.7"/>
<circle cx="1008.0" cy="1064.9" r="8.7"/>
<circle cx="1008.9" cy="1070.3" r="8.7"/>
<circle cx="1009.1" cy="1075.8" r="8.7"/>
<circle cx="1008.4" cy="1081.2" r="8.7"/>
<circle cx="1007.3" cy="1086.7" r="8.7"/>
<circle cx="1007.7" cy="1092.2" r="8.7"/>
<circle cx="1009.2" cy="1097.6" r="8.7"/>
<circle cx="1007.9" cy="1103.1" r="8.7"/>
<circle cx="1009.6" cy="1108.6" r="8.7"/>
<circle cx="1008.8" cy="1114.0" r="8.7"/>
<circle cx="1010.3" cy="1119.5" r="8.7"/>
<circle cx="1009.9" cy="1125.0" r="8.7"/>
<circle cx="1009.5" cy="1130.4" r="8.7"/>
<circle cx="1008.4" cy="1135.9" r="8.7"/>
<circle cx="1007.3" cy="1141.4" r="8.7"/>
<circle cx="1009.0" cy="1146.8" r="8.7"/>
<circle cx="1009.6" cy="1152.3" r="8.7"/>
<circle cx="1010.1" cy="1157.8" r="8.7"/>
<circle cx="1007.8" cy="1163.2" r="8.7"/>
<circle cx="1007.7" cy="1168.7" r="8.7"/>
<circle cx="1010.3" cy="1174.1" r="8.7"/>
<circle cx="1009.6" cy="1179.6" r="8.7"/>
<circle cx="1008.8" cy="1185.1" r="8.7"/>
<circle cx="1009.6" cy="1190.5" r="8.7"/>
<circle cx="1007.7" cy="1196.0" r="8.7"/>
<circle cx="1014.1" cy="890.0" r="8.7"/>
<circle cx="1014.5" cy="895.5" r="8.7"/>
<circle cx="1014.3" cy="900.9" r="8.7"/>
<circle cx="1012.9" cy="906.4" r="8.7"/>
<circle cx="1012.8" cy="911.9" r="8.7"/>
<circle cx="1014.4" cy="917.3" r="8.7"/>
<circle cx="1015.2" cy="922.8" r="8.7"/>
<circle cx="1012.8" cy="928.2" r="8.7"/>
<circle cx="1012.4" cy="933.7" r="8.7"/>
<circle cx="1012.7" cy="939.2" r="8.7"/>
<circle cx="1014.9" cy="944.6" r="8.7"/>
<circle cx="1013.7" cy="950.1" r="8.7"/>
<circle cx="1013.9" cy="955.6" r="8.7"/>
<circle cx="1015.6" cy="961.0" r="8.7"/>
<circle cx="1014.4" cy="966.5" r="8.7"/>
<circle cx="1013.2" cy="972.0" r="8.7"/>
<circle cx="1014.6" cy="977.4" r="8.7"/>
<circle cx="1012.4" cy="982.9" r="8.7"/>
<circle cx="1013.3" cy="988.4" r="8.7"/>
<circle cx="1014.6" cy="993.8" r="8.7"/>
<circle cx="1012.9" cy="999.3" r="8.7"/>
<circle cx="1012.5" cy="1004.8" r="8.7"/>
<circle cx="1014.1" cy="1010.2" r="8.7"/>
<circle cx="1013.4" cy="1015.7" r="8.7"/>
<circle cx="1015.5" cy="1021.1" r="8.7"/>
<circle cx="1012.7" cy="1026.6" r="8.7"/>
<circle cx="1015.0" cy="1032.1" r="8.7"/>
<circle cx="1013.6" cy="1037.5" r="8.7"/>
<circle cx="1015.0" cy="1043.0" r="8.7"/>
<circle cx="1013.8" cy="1048.5" r="8.7"/>
<circle cx="1014.5" cy="1053.9" r="8.7"/>
<circle cx="1013.4" cy="1059.4" r="8.7"/>
<circle cx="1013.1" cy="1064.9" r="8.7"/>
<circle cx="1013.8" cy="1070.3" r="8.7"/>
<circle cx="1015.0" cy="1075.8" r="8.7"/>
<circle cx="1013.5" cy="1081.2" r="8.7"/>
<circle cx="1013.1" cy="1086.7" r="8.7"/>
<circle cx="1013.7" cy="1092.2" r="8.7"/>
<circle cx="1012.7" cy="1097.6" r="8.7"/>
<circle cx="1013.4" cy="1103.1" r="8.7"/>
<circle cx="1014.2" cy="1108.6" r="8.7"/>
<circle cx="1014.1" cy="1114.0" r="8.7"/>
<circle cx="1014.3" cy="1119.5" r="8.7"/>
<circle cx="1013.3" cy="1125.0" r="8.7"/>
<circle cx="1012.5" cy="1130.4" r="8.7"/>
<circle cx="1012.5" cy="1135.9" r="8.7"/>
<circle cx="1013.5" cy="1141.4" r="8.7"/>
<circle cx="1013.0" cy="1146.8" r="8.7"/>
<circle cx="1014.2" cy="1152.3" r="8.7"/>
<circle cx="1013.2" cy="1157.8" r="8.7"/>
<circle cx="1014.8" cy="1163.2" r="8.7"/>
<circle cx="1014.3" cy="1168.7" r="8.7"/>
<circle cx="1014.5" cy="1174.1" r="8.7"/>
<circle cx="1014.8" cy="1179.6" r="8.7"/>
<circle cx="1014.1" cy="1185.1" r="8.7"/>
<circle cx="1013.8" cy="1190.5" r="8.7"/>
<circle cx="1013.4" cy="1196.0" r="8.7"/>
<circle cx="1021.6" cy="901.0" r="8.7"/>
<circle cx="1023.9" cy="906.5" r="8.7"/>
<circle cx="1023.0" cy="911.9" r="8.7"/>
<circle cx="1021.7" cy="917.4" r="8.7"/>
<circle cx="1024.4" cy="922.9" r="8.7"/>
<circle cx="1023.3" cy="928.3" r="8.7"/>
<circle cx="1023.4" cy="933.8" r="8.7"/>
<circle cx="1022.8" cy="939.2" r="8.7"/>
<circle cx="1021.8" cy="944.7" r="8.7"/>
<circle cx="1024.6" cy="950.2" r="8.7"/>
<circle cx="1021.9" cy="955.6" r="8.7"/>
<circle cx="1022.6" cy="961.1" r="8.7"/>
<circle cx="1024.6" cy="966.6" r="8.7"/>
<circle cx="1021.8" cy="972.0" r="8.7"/>
<circle cx="1023.0" cy="977.5" r="8.7"/>
<circle cx="1022.9" cy="982.9" r="8.7"/>
<circle cx="1022.2" cy="988.4" r="8.7"/>
<circle cx="1024.4" cy="993.9" r="8.7"/>
<circle cx="1022.7" cy="999.3" r="8.7"/>
<circle cx="1021.4" cy="1004.8" r="8.7"/>
<circle cx="1022.9" cy="1010.3" r="8.7"/>
<circle cx="1021.4" cy="1015.7" r="8.7"/>
<circle cx="1023.7" cy="1021.2" r="8.7"/>
<circle cx="1024.2" cy="1026.6" r="8.7"/>
<circle cx="1024.3" cy="1032.1" r="8.7"/>
<circle cx="1021.6" cy="1037.6" r="8.7"/>
<circle cx="1023.6" cy="1043.0" r="8.7"/>
<circle cx="1022.4" cy="1048.5" r="8.7"/>
<circle cx="1022.9" cy="1054.0" r="8.7"/>
<circle cx="1022.4" cy="1059.4" r="8.7"/>
<circle cx="1022.4" cy="1064.9" r="8.7"/>
<circle cx="1021.8" cy="1070.4" r="8.7"/>
<circle cx="1023.4" cy="1075.8" r="8.7"/>
<circle cx="1021.7" cy="1081.3" r="8.7"/>
<circle cx="1024.5" cy="1086.7" r="8.7"/>
<circle cx="1021.5" cy="1092.2" r="8.7"/>
<circle cx="1024.5" cy="1097.7" r="8.7"/>
<circle cx="1022.0" cy="1103.1" r="8.7"/>
<circle cx="1021.7" cy="1108.6" r="8.7"/>
<circle cx="1023.8" cy="1114.1" r="8.7"/>
<circle cx="1023.1" cy="1119.5" r="8.7"/>
<circle cx="1023.9" cy="1125.0" r="8.7"/>
<circle cx="1023.0" cy="1130.4" r="8.7"/>
<circle cx="1023.4" cy="1135.9" r="8.7"/>
<circle cx="1021.7" cy="1141.4" r="8.7"/>
<circle cx="1023.6" cy="1146.8" r="8.7"/>
<circle cx="1023.0" cy="1152.3" r="8.7"/>
<circle cx="1024.5" cy="1157.8" r="8.7"/>
<circle cx="1021.4" cy="1163.2" r="8.7"/>
<circle cx="1021.6" cy="1168.7" r="8.7"/>
<circle cx="1023.6" cy="1174.1" r="8.7"/>
<circle cx="1024.4" cy="1179.6" r="8.7"/>
<circle cx="1022.7" cy="1185.1" r="8.7"/>
<circle cx="1023.7" cy="1190.5" r="8.7"/>
<circle cx="1023.2" cy="1196.0" r="8.7"/>
<circle cx="1033.0" cy="856.6" r="8.7"/>
<circle cx="1032.7" cy="877.6" r="8.7"/>
<circle cx="1032.9" cy="883.1" r="8.7"/>
<circle cx="1033.3" cy="888.6" r="8.7"/>
<circle cx="1031.5" cy="894.1" r="8.7"/>
<circle cx="1032.4" cy="899.6" r="8.7"/>
<circle cx="1033.8" cy="905.0" r="8.7"/>
<circle cx="1032.2" cy="910.5" r="8.7"/>
<circle cx="1032.9" cy="916.0" r="8.7"/>
<circle cx="1032.2" cy="921.5" r="8.7"/>
<circle cx="1032.5" cy="927.0" r="8.7"/>
<circle cx="1033.5" cy="932.5" r="8.7"/>
<circle cx="1033.8" cy="938.0" r="8.7"/>
<circle cx="1034.5" cy="943.5" r="8.7"/>
<circle cx="1032.9" cy="949.0" r="8.7"/>
<circle cx="1032.0" cy="954.5" r="8.7"/>
<circle cx="1032.5" cy="959.9" r="8.7"/>
<circle cx="1031.6" cy="965.4" r="8.7"/>
<circle cx="1032.2" cy="970.9" r="8.7"/>
<circle cx="1033.3" cy="976.4" r="8.7"/>
<circle cx="1033.4" cy="981.9" r="8.7"/>
<circle cx="1032.2" cy="987.4" r="8.7"/>
<circle cx="1032.0" cy="992.9" r="8.7"/>
<circle cx="1031.7" cy="998.4" r="8.7"/>
<circle cx="1032.0" cy="1003.9" r="8.7"/>
<circle cx="1033.0" cy="1009.4" r="8.7"/>
<circle cx="1032.2" cy="1014.8" r="8.7"/>
<circle cx="1034.2" cy="1020.3" r="8.7"/>
<circle cx="1033.2" cy="1025.8" r="8.7"/>
<circle cx="1032.5" cy="1031.3" r="8.7"/>
<circle cx="1032.8" cy="1036.8" r="8.7"/>
<circle cx="1031.5" cy="1042.3" r="8.7"/>
<circle cx="1033.7" cy="1047.8" r="8.7"/>
<circle cx="1033.8" cy="1053.3" r="8.7"/>
<circle cx="1032.6" cy="1058.8" r="8.7"/>
<circle cx="1033.7" cy="1064.2" r="8.7"/>
<circle cx="1032.3" cy="1069.7" r="8.7"/>
<circle cx="1032.1" cy="1075.2" r="8.7"/>
<circle cx="1032.1" cy="1080.7" r="8.7"/>
<circle cx="1032.0" cy="1086.2" r="8.7"/>
<circle cx="1033.3" cy="1091.7" r="8.7"/>
<circle cx="1033.5" cy="1097.2" r="8.7"/>
<circle cx="1033.7" cy="1102.7" r="8.7"/>
<circle cx="1031.7" cy="1108.2" r="8.7"/>
<circle cx="1033.9" cy="1113.7" r="8.7"/>
<circle cx="1032.9" cy="1119.1" r="8.7"/>
<circle cx="1032.6" cy="1124.6" r="8.7"/>
<circle cx="1033.0" cy="1130.1" r="8.7"/>
<circle cx="1032.8" cy="1135.6" r="8.7"/>
<circle cx="1032.0" cy="1141.1" r="8.7"/>
<circle cx="1032.7" cy="1146.6" r="8.7"/>
<circle cx="1033.5" cy="1152.1" r="8.7"/>
<circle cx="1033.7" cy="1157.6" r="8.7"/>
<circle cx="1034.3" cy="1163.1" r="8.7"/>
<circle cx="1032.0" cy="1168.6" r="8.7"/>
<circle cx="1034.3" cy="1174.0" r="8.7"/>
<circle cx="1034.0" cy="1179.5" r="8.7"/>
<circle cx="1033.7" cy="1185.0" r="8.7"/>
<circle cx="1034.5" cy="1190.5" r="8.7"/>
<circle cx="1031.8" cy="1196.0" r="8.7"/>
</g>
<circle cx="308.2" cy="1192.2" r="8.9" fill="#f4e41c" stroke="#a0961c" stroke-width="2.1"/>
</svg></body></html>
